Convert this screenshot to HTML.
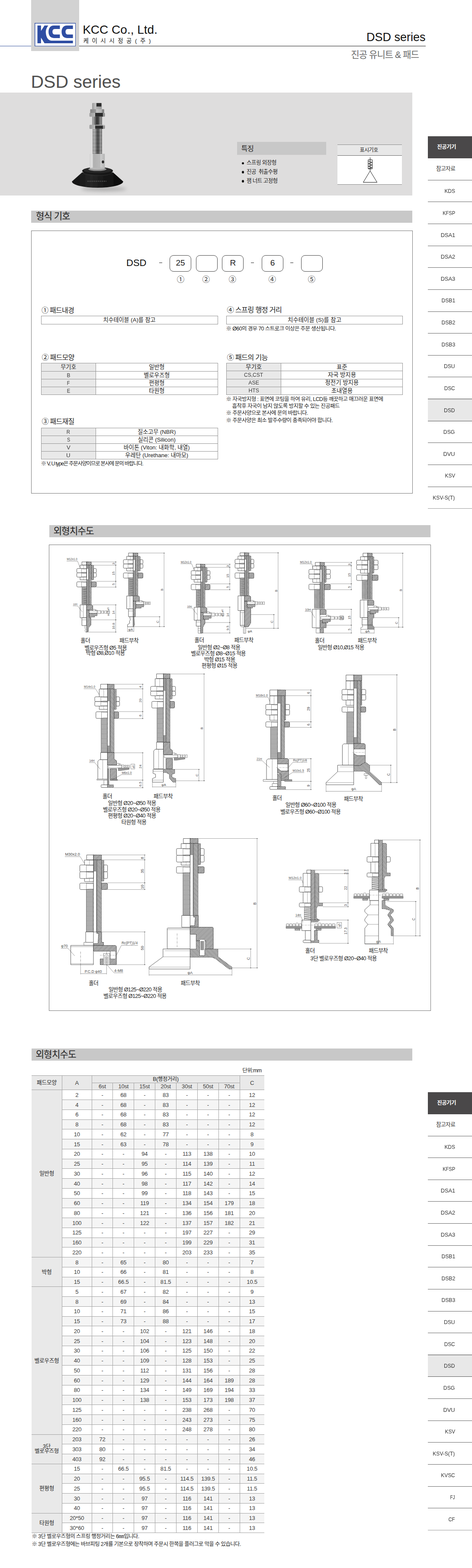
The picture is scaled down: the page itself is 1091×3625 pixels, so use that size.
<!DOCTYPE html>
<html lang="ko"><head><meta charset="utf-8"><title>DSD series</title>
<style>
*{box-sizing:border-box;margin:0;padding:0}
html,body{width:1091px;height:3625px;background:#fff;overflow-x:hidden}
body{position:relative;font-family:"Liberation Sans","Noto Sans CJK KR",sans-serif;color:#222;font-size:13px;line-height:1}
.a{position:absolute}
.t{position:absolute;white-space:nowrap;line-height:1}
.ka{position:absolute;line-height:1;white-space:nowrap;font-weight:normal;letter-spacing:-.05em;font-family:"Liberation Sans","Noto Sans CJK KR",sans-serif}
.bar{position:absolute;background:#c8c8c8}
ul{list-style:none}
table{border-collapse:collapse}
</style></head>
<body>
<header>
<div class="a" style="left:0px;top:105.5px;width:72px;height:1.3px;background:#3a58a0"></div>
<div class="a" style="left:183px;top:105.5px;width:801px;height:1.3px;background:#1a1a1a"></div>
<div class="a" style="left:72px;top:0px;width:111px;height:117.5px;background:#d2d2d2"></div>
<svg class="a" style="left:80px;top:52.7px" width="95.4" height="54.4" viewBox="0 0 95.4 54.4" role="img" aria-label="KCC">
<rect x="0.7" y="0.7" width="94" height="53" fill="#fff" stroke="#2f4ea3" stroke-width="1.4"/>
<g fill="#2f4ea3">
<path d="M6.5 6H14.8V18.5L22.8 6H31.6C27 12 25.5 18 26 23C26.6 32 30.5 40.9 39 40.9H88.6V47H22.8L14.8 34V47H6.5Z"/>
<path id="lgC" d="M58.4 6H44.5C36.5 6 32.2 12 32.2 20.5C32.2 29 36.5 34.9 44.5 34.9H58.4V26.8H46.5C43 26.8 41.3 24 41.3 20.5C41.3 17 43 14.1 46.5 14.1H58.4Z"/>
<use href="#lgC" x="30.2"/>
</g></svg>
<div class="t" style="left:191.2px;top:55.0px;font-size:28px;color:#111;">KCC Co., Ltd.</div>
<div class="ka" style="left:192.5px;top:87.7px;font-size:13.5px;color:#222;letter-spacing:7.5px">케이시시정공(주)</div>
<div class="t" style="right:107.4px;top:73.4px;font-size:27px;color:#111;">DSD series</div>
<div class="ka" style="left:811.3px;top:115.5px;font-size:21.2px;color:#6a6a6a">진공 유니트 &amp; 패드</div>
</header>
<h1 class="t" style="left:71.5px;top:168.6px;font-size:41px;font-weight:normal;color:#505050">DSD series</h1>
<nav class="a" style="left:989px;top:315.6px;width:102px"><ul>
<li style="position:absolute;left:0;top:-.6px;width:102px;height:51.22px;background:#4a4849;"><span style="position:absolute;right:37.2px;top:19.4px;font-size:12.5px;font-weight:bold;color:#fff;white-space:nowrap;letter-spacing:-.05em">진공기기</span></li>
<li style="position:absolute;left:0;top:50.62px;width:102px;height:50.62px;border-bottom:1.3px solid #666;"><span style="position:absolute;right:38.8px;top:17.6px;font-size:12.7px;color:#333;white-space:nowrap;letter-spacing:-.05em">참고자료</span></li>
<li style="position:absolute;left:0;top:101.24px;width:102px;height:50.62px;border-bottom:1.3px solid #666;"><span style="position:absolute;right:39.3px;top:18.5px;font-size:13.08px;color:#333;transform:scaleX(0.910);transform-origin:100% 50%">KDS</span></li>
<li style="position:absolute;left:0;top:151.86px;width:102px;height:50.62px;border-bottom:1.3px solid #666;"><span style="position:absolute;right:39.3px;top:18.5px;font-size:13.08px;color:#333;transform:scaleX(0.849);transform-origin:100% 50%">KFSP</span></li>
<li style="position:absolute;left:0;top:202.48px;width:102px;height:50.62px;border-bottom:1.3px solid #666;"><span style="position:absolute;right:39.3px;top:18.5px;font-size:13.08px;color:#333;transform:scaleX(0.976);transform-origin:100% 50%">DSA1</span></li>
<li style="position:absolute;left:0;top:253.10px;width:102px;height:50.62px;border-bottom:1.3px solid #666;"><span style="position:absolute;right:39.3px;top:18.5px;font-size:13.08px;color:#333;transform:scaleX(0.976);transform-origin:100% 50%">DSA2</span></li>
<li style="position:absolute;left:0;top:303.72px;width:102px;height:50.62px;border-bottom:1.3px solid #666;"><span style="position:absolute;right:39.3px;top:18.5px;font-size:13.08px;color:#333;transform:scaleX(0.976);transform-origin:100% 50%">DSA3</span></li>
<li style="position:absolute;left:0;top:354.34px;width:102px;height:50.62px;border-bottom:1.3px solid #666;"><span style="position:absolute;right:39.3px;top:18.5px;font-size:13.08px;color:#333;transform:scaleX(0.930);transform-origin:100% 50%">DSB1</span></li>
<li style="position:absolute;left:0;top:404.96px;width:102px;height:50.62px;border-bottom:1.3px solid #666;"><span style="position:absolute;right:39.3px;top:18.5px;font-size:13.08px;color:#333;transform:scaleX(0.930);transform-origin:100% 50%">DSB2</span></li>
<li style="position:absolute;left:0;top:455.58px;width:102px;height:50.62px;border-bottom:1.3px solid #666;"><span style="position:absolute;right:39.3px;top:18.5px;font-size:13.08px;color:#333;transform:scaleX(0.930);transform-origin:100% 50%">DSB3</span></li>
<li style="position:absolute;left:0;top:506.20px;width:102px;height:50.62px;border-bottom:1.3px solid #666;"><span style="position:absolute;right:39.3px;top:18.5px;font-size:13.08px;color:#333;transform:scaleX(0.926);transform-origin:100% 50%">DSU</span></li>
<li style="position:absolute;left:0;top:556.82px;width:102px;height:50.62px;border-bottom:1.3px solid #666;"><span style="position:absolute;right:39.3px;top:18.5px;font-size:13.08px;color:#333;transform:scaleX(0.901);transform-origin:100% 50%">DSC</span></li>
<li style="position:absolute;left:0;top:607.44px;width:102px;height:50.62px;background:#e8e8e8;border-bottom:1.3px solid #555;box-shadow:0 -1.3px 0 #666;"><span style="position:absolute;right:39.3px;top:18.5px;font-size:13.08px;color:#333;transform:scaleX(0.926);transform-origin:100% 50%">DSD</span></li>
<li style="position:absolute;left:0;top:658.06px;width:102px;height:50.62px;border-bottom:1.3px solid #666;"><span style="position:absolute;right:39.3px;top:18.5px;font-size:13.08px;color:#333;transform:scaleX(0.934);transform-origin:100% 50%">DSG</span></li>
<li style="position:absolute;left:0;top:708.68px;width:102px;height:50.62px;border-bottom:1.3px solid #666;"><span style="position:absolute;right:39.3px;top:18.5px;font-size:13.08px;color:#333;transform:scaleX(0.982);transform-origin:100% 50%">DVU</span></li>
<li style="position:absolute;left:0;top:759.30px;width:102px;height:50.62px;border-bottom:1.3px solid #666;"><span style="position:absolute;right:39.3px;top:18.5px;font-size:13.08px;color:#333;transform:scaleX(0.905);transform-origin:100% 50%">KSV</span></li>
<li style="position:absolute;left:0;top:809.92px;width:102px;height:50.62px;border-bottom:1.3px solid #999;"><span style="position:absolute;right:39.3px;top:18.5px;font-size:13.08px;color:#333;transform:scaleX(0.922);transform-origin:100% 50%">KSV-S(T)</span></li>
</ul></nav>
<nav class="a" style="left:989px;top:2525.4px;width:102px"><ul>
<li style="position:absolute;left:0;top:-.6px;width:102px;height:51.22px;background:#4a4849;"><span style="position:absolute;right:37.2px;top:19.4px;font-size:12.5px;font-weight:bold;color:#fff;white-space:nowrap;letter-spacing:-.05em">진공기기</span></li>
<li style="position:absolute;left:0;top:50.62px;width:102px;height:50.62px;border-bottom:1.3px solid #666;"><span style="position:absolute;right:38.8px;top:17.6px;font-size:12.7px;color:#333;white-space:nowrap;letter-spacing:-.05em">참고자료</span></li>
<li style="position:absolute;left:0;top:101.24px;width:102px;height:50.62px;border-bottom:1.3px solid #666;"><span style="position:absolute;right:39.3px;top:18.5px;font-size:13.08px;color:#333;transform:scaleX(0.910);transform-origin:100% 50%">KDS</span></li>
<li style="position:absolute;left:0;top:151.86px;width:102px;height:50.62px;border-bottom:1.3px solid #666;"><span style="position:absolute;right:39.3px;top:18.5px;font-size:13.08px;color:#333;transform:scaleX(0.849);transform-origin:100% 50%">KFSP</span></li>
<li style="position:absolute;left:0;top:202.48px;width:102px;height:50.62px;border-bottom:1.3px solid #666;"><span style="position:absolute;right:39.3px;top:18.5px;font-size:13.08px;color:#333;transform:scaleX(0.976);transform-origin:100% 50%">DSA1</span></li>
<li style="position:absolute;left:0;top:253.10px;width:102px;height:50.62px;border-bottom:1.3px solid #666;"><span style="position:absolute;right:39.3px;top:18.5px;font-size:13.08px;color:#333;transform:scaleX(0.976);transform-origin:100% 50%">DSA2</span></li>
<li style="position:absolute;left:0;top:303.72px;width:102px;height:50.62px;border-bottom:1.3px solid #666;"><span style="position:absolute;right:39.3px;top:18.5px;font-size:13.08px;color:#333;transform:scaleX(0.976);transform-origin:100% 50%">DSA3</span></li>
<li style="position:absolute;left:0;top:354.34px;width:102px;height:50.62px;border-bottom:1.3px solid #666;"><span style="position:absolute;right:39.3px;top:18.5px;font-size:13.08px;color:#333;transform:scaleX(0.930);transform-origin:100% 50%">DSB1</span></li>
<li style="position:absolute;left:0;top:404.96px;width:102px;height:50.62px;border-bottom:1.3px solid #666;"><span style="position:absolute;right:39.3px;top:18.5px;font-size:13.08px;color:#333;transform:scaleX(0.930);transform-origin:100% 50%">DSB2</span></li>
<li style="position:absolute;left:0;top:455.58px;width:102px;height:50.62px;border-bottom:1.3px solid #666;"><span style="position:absolute;right:39.3px;top:18.5px;font-size:13.08px;color:#333;transform:scaleX(0.930);transform-origin:100% 50%">DSB3</span></li>
<li style="position:absolute;left:0;top:506.20px;width:102px;height:50.62px;border-bottom:1.3px solid #666;"><span style="position:absolute;right:39.3px;top:18.5px;font-size:13.08px;color:#333;transform:scaleX(0.926);transform-origin:100% 50%">DSU</span></li>
<li style="position:absolute;left:0;top:556.82px;width:102px;height:50.62px;border-bottom:1.3px solid #666;"><span style="position:absolute;right:39.3px;top:18.5px;font-size:13.08px;color:#333;transform:scaleX(0.901);transform-origin:100% 50%">DSC</span></li>
<li style="position:absolute;left:0;top:607.44px;width:102px;height:50.62px;background:#e8e8e8;border-bottom:1.3px solid #555;box-shadow:0 -1.3px 0 #666;"><span style="position:absolute;right:39.3px;top:18.5px;font-size:13.08px;color:#333;transform:scaleX(0.926);transform-origin:100% 50%">DSD</span></li>
<li style="position:absolute;left:0;top:658.06px;width:102px;height:50.62px;border-bottom:1.3px solid #666;"><span style="position:absolute;right:39.3px;top:18.5px;font-size:13.08px;color:#333;transform:scaleX(0.934);transform-origin:100% 50%">DSG</span></li>
<li style="position:absolute;left:0;top:708.68px;width:102px;height:50.62px;border-bottom:1.3px solid #666;"><span style="position:absolute;right:39.3px;top:18.5px;font-size:13.08px;color:#333;transform:scaleX(0.982);transform-origin:100% 50%">DVU</span></li>
<li style="position:absolute;left:0;top:759.30px;width:102px;height:50.62px;border-bottom:1.3px solid #666;"><span style="position:absolute;right:39.3px;top:18.5px;font-size:13.08px;color:#333;transform:scaleX(0.905);transform-origin:100% 50%">KSV</span></li>
<li style="position:absolute;left:0;top:809.92px;width:102px;height:50.62px;border-bottom:1.3px solid #666;"><span style="position:absolute;right:39.3px;top:18.5px;font-size:13.08px;color:#333;transform:scaleX(0.922);transform-origin:100% 50%">KSV-S(T)</span></li>
<li style="position:absolute;left:0;top:860.54px;width:102px;height:50.62px;border-bottom:1.3px solid #666;"><span style="position:absolute;right:39.3px;top:18.5px;font-size:13.08px;color:#333;transform:scaleX(0.907);transform-origin:100% 50%">KVSC</span></li>
<li style="position:absolute;left:0;top:911.16px;width:102px;height:50.62px;border-bottom:1.3px solid #666;"><span style="position:absolute;right:39.3px;top:18.5px;font-size:13.08px;color:#333;transform:scaleX(0.763);transform-origin:100% 50%">FJ</span></li>
<li style="position:absolute;left:0;top:961.78px;width:102px;height:50.62px;border-bottom:1.3px solid #999;"><span style="position:absolute;right:39.3px;top:18.5px;font-size:13.08px;color:#333;transform:scaleX(0.862);transform-origin:100% 50%">CF</span></li>
</ul></nav>
<section>
<div class="a" style="left:0px;top:214px;width:953px;height:237.6px;background:#dedddd"></div>
<svg class="a" style="left:150px;top:225px" width="170" height="235" viewBox="150 225 170 235" role="img" aria-label="DSD vacuum pad">
<defs>
<linearGradient id="mS" x1="0" x2="1" y1="0" y2="0"><stop offset="0" stop-color="#8a8a8a"/><stop offset=".1" stop-color="#a8a8a8"/><stop offset=".3" stop-color="#6c6c6c"/><stop offset=".42" stop-color="#383838"/><stop offset=".62" stop-color="#3c3c3c"/><stop offset=".76" stop-color="#7a7a7a"/><stop offset=".9" stop-color="#8c8c8c"/><stop offset="1" stop-color="#666"/></linearGradient>
<linearGradient id="mT" x1="0" x2="1" y1="0" y2="0"><stop offset="0" stop-color="#9a9a9a"/><stop offset=".15" stop-color="#d9d9d9"/><stop offset=".36" stop-color="#8f8f8f"/><stop offset=".45" stop-color="#404040"/><stop offset=".68" stop-color="#4a4a4a"/><stop offset=".8" stop-color="#b5b5b5"/><stop offset="1" stop-color="#7a7a7a"/></linearGradient>
<linearGradient id="mN" x1="0" x2="1" y1="0" y2="0"><stop offset="0" stop-color="#9c9c9c"/><stop offset=".36" stop-color="#b8b8b8"/><stop offset=".38" stop-color="#2d2d2d"/><stop offset=".86" stop-color="#2a2a2a"/><stop offset=".88" stop-color="#a0a0a0"/><stop offset="1" stop-color="#828282"/></linearGradient>
<linearGradient id="mN1" x1="0" x2="1" y1="0" y2="0"><stop offset="0" stop-color="#858585"/><stop offset=".4" stop-color="#9a9a9a"/><stop offset=".44" stop-color="#c4c4c4"/><stop offset=".82" stop-color="#b2b2b2"/><stop offset=".86" stop-color="#8c8c8c"/><stop offset="1" stop-color="#7c7c7c"/></linearGradient>
<linearGradient id="mU" x1="0" x2="1" y1="0" y2="0"><stop offset="0" stop-color="#9a9a9a"/><stop offset=".35" stop-color="#c2c2c2"/><stop offset=".45" stop-color="#b0b0b0"/><stop offset="1" stop-color="#9b9b9b"/></linearGradient>
<linearGradient id="mD" x1="0" x2="1" y1="0" y2="0"><stop offset="0" stop-color="#c4c4c4"/><stop offset=".06" stop-color="#e2e2e2"/><stop offset=".19" stop-color="#d6d6d6"/><stop offset=".21" stop-color="#b0b0b0"/><stop offset=".7" stop-color="#bababa"/><stop offset=".72" stop-color="#cdcdcd"/><stop offset="1" stop-color="#b5b5b5"/></linearGradient>
<linearGradient id="pC" x1="0" x2="1" y1="0" y2="0"><stop offset="0" stop-color="#111"/><stop offset=".38" stop-color="#262626"/><stop offset=".6" stop-color="#1a1a1a"/><stop offset="1" stop-color="#0a0a0a"/></linearGradient>
<pattern id="thr" x="0" y="297.800" width="30" height="3.4" patternUnits="userSpaceOnUse"><rect width="30" height="1.5" fill="#fff" fill-opacity=".35"/><rect y="1.5" width="30" height="1.9" fill="#000" fill-opacity=".4"/></pattern>
<filter id="bl" x="-20%" y="-80%" width="140%" height="260%"><feGaussianBlur stdDeviation="4"/></filter>
<filter id="b1"><feGaussianBlur stdDeviation=".55"/></filter>
</defs>
<ellipse cx="240" cy="437" rx="52" ry="5" fill="#999" filter="url(#bl)" opacity=".7"/>
<g filter="url(#b1)">
<rect x="213" y="238" width="22.3" height="15" rx="1.5" fill="url(#mU)"/>
<rect x="223" y="238.300" width="11.3" height="8" fill="#2b2b2b"/>
<rect x="208.500" y="252.600" width="32.200" height="9" rx="1.2" fill="url(#mN1)"/>
<rect x="206.700" y="261" width="35.700" height="8.800" rx="1.6" fill="url(#mN)"/>
<rect x="213" y="269.600" width="23" height="19.500" fill="url(#mS)"/>
<rect x="206.700" y="288.600" width="35.700" height="9.400" rx="1.8" fill="url(#mN)"/>
<path d="M219.500 289.300l3-1h18l2 1v1.200h-23z" fill="#d8d8d8" opacity=".7"/>
<rect x="214" y="297.800" width="22" height="58.500" fill="url(#mT)"/>
<rect x="214" y="297.800" width="22" height="58.500" fill="url(#thr)"/>
<path d="M189.800 398.500L166.300 419.500A59.200 14.500 0 0 0 284.700 419.500L261.200 398.500Z" fill="url(#pC)"/>
<ellipse cx="225.500" cy="395" rx="35.600" ry="8.600" fill="#161616"/>
<ellipse cx="225.500" cy="393.600" rx="33" ry="6.800" fill="#262626"/>
<path d="M192 400.500C204 408 247 408 259 400.500" fill="none" stroke="#333" stroke-width=".9"/>
<ellipse cx="225.200" cy="391.300" rx="21" ry="4" fill="#8e8e8e"/>
<rect x="207.900" y="355.600" width="34.300" height="34" rx="1" fill="url(#mD)"/>
<ellipse cx="225" cy="389.600" rx="17.200" ry="2.600" fill="#b8b8b8"/>
<ellipse cx="238" cy="374.300" rx="2.700" ry="3.400" fill="#262626"/>
<path d="M202 419h44" stroke="#555" stroke-width="2.400" stroke-dasharray="3.200 1.500" opacity=".75"/>
</g>
</svg>
<div class="a" style="left:548.4px;top:328.4px;width:205.8px;height:29.3px;background:#c8c8c8"></div>
<h3 class="ka" style="left:557.5px;top:334.9px;font-size:16.4px;color:#222">특징</h3>
<ul>
<li><div class="a" style="left:558.8px;top:374.5px;width:5.6px;height:5.6px;background:#111;border-radius:50%"></div><div class="ka" style="left:570.0px;top:370.4px;font-size:12.6px;color:#222">스프링 외장형</div></li>
<li><div class="a" style="left:558.8px;top:395.3px;width:5.6px;height:5.6px;background:#111;border-radius:50%"></div><div class="ka" style="left:570.0px;top:391.2px;font-size:12.6px;color:#222">진공&nbsp; 취출수평</div></li>
<li><div class="a" style="left:558.8px;top:416.1px;width:5.6px;height:5.6px;background:#111;border-radius:50%"></div><div class="ka" style="left:570.0px;top:412.0px;font-size:12.6px;color:#222">잼 너트 고정형</div></li>
</ul>
<div class="a" style="left:780px;top:334px;width:148.5px;height:92.5px;background:#fff;border-top:1.3px solid #8a8a8a;border-bottom:1.3px solid #8a8a8a"></div>
<div class="a" style="left:780px;top:335.3px;width:148.5px;height:24.7px;background:#e8e8e8;border-bottom:1.3px solid #666"></div>
<div class="ka" style="left:831.4px;top:341.1px;font-size:12.2px;color:#222">표시기호</div>
<svg class="a" style="left:830px;top:360px" width="50" height="66" viewBox="830 360 50 66" fill="none" stroke="#111" stroke-width="1">
<path d="M855.500 364V395.200M851 369.300h9.400v21h-9.400zM851 372.500l9.400 3l-9.400 3l9.400 3l-9.400 3l9.400 3l-9.400 2.500M855.500 395.200L839.600 421.500H871.600Z"/></svg>
</section>
<section>
<div class="a" style="left:72.4px;top:487.3px;width:880.6px;height:27.3px;background:#c8c8c8"></div>
<h2 class="ka" style="left:83px;top:489.1px;font-size:21.2px;color:#222">형식 기호</h2>
<div class="a" style="left:72px;top:533px;width:881.5px;height:607.5px;border:1.3px solid #777"></div>
<div class="t" style="left:292.0px;top:597.4px;font-size:22px;color:#111;">DSD</div>
<div class="a" style="left:392px;top:589.7px;width:50px;height:38px;border:1.5px solid #444;border-radius:9px"></div>
<div class="a" style="left:452.6px;top:589.7px;width:50px;height:38px;border:1.5px solid #444;border-radius:9px"></div>
<div class="a" style="left:513.3px;top:589.7px;width:50px;height:38px;border:1.5px solid #444;border-radius:9px"></div>
<div class="a" style="left:605px;top:589.7px;width:50px;height:38px;border:1.5px solid #444;border-radius:9px"></div>
<div class="a" style="left:696px;top:589.7px;width:50px;height:38px;border:1.5px solid #444;border-radius:9px"></div>
<div class="a" style="left:367.7px;top:606.6px;width:7px;height:1.6px;background:#222"></div>
<div class="a" style="left:579.8px;top:606.6px;width:7px;height:1.6px;background:#222"></div>
<div class="a" style="left:671px;top:606.6px;width:7px;height:1.6px;background:#222"></div>
<div class="t" style="left:417.0px;transform:translateX(-50%);top:598.1px;font-size:19px;color:#222;">25</div>
<div class="t" style="left:538.3px;transform:translateX(-50%);top:598.1px;font-size:19px;color:#222;">R</div>
<div class="t" style="left:630.0px;transform:translateX(-50%);top:598.1px;font-size:19px;color:#222;">6</div>
<div class="ka" style="left:408.8px;top:638.2px;font-size:17.5px;color:#333">①</div>
<div class="ka" style="left:467.6px;top:638.2px;font-size:17.5px;color:#333">②</div>
<div class="ka" style="left:528.4px;top:638.2px;font-size:17.5px;color:#333">③</div>
<div class="ka" style="left:620.6px;top:638.2px;font-size:17.5px;color:#333">④</div>
<div class="ka" style="left:711.6px;top:638.2px;font-size:17.5px;color:#333">⑤</div>
<h3 class="ka" style="left:96px;top:708.5px;font-size:16.1px;color:#222">① 패드내경</h3>
<table class="a" style="left:94.5px;top:730px;width:409px;border:1px solid #939393;font-size:13.1px;text-align:center"><tr style="height:19px"><td style="border:1px solid #939393">치수테이블 (A)를 참고</td></tr></table>
<h3 class="ka" style="left:96.5px;top:818.2px;font-size:16.1px;color:#222">② 패드모양</h3>
<table class="a" style="left:94.5px;top:839.3px;width:409px;border:1px solid #939393;font-size:13.1px;text-align:center"><tr style="height:18.3px"><td style="width:126.5px;background:#e9e9e9;border:1px solid #939393">무기호</td><td style="border:1px solid #939393">일반형</td></tr><tr style="height:18.3px"><td style="width:126.5px;background:#e9e9e9;border:1px solid #939393"><span style="display:inline-block;font-size:13.39px;transform:scaleX(0.889);color:#3a3a3a">B</span></td><td style="border:1px solid #939393">벨로우즈형</td></tr><tr style="height:18.3px"><td style="width:126.5px;background:#e9e9e9;border:1px solid #939393"><span style="display:inline-block;font-size:13.39px;transform:scaleX(0.806);color:#3a3a3a">F</span></td><td style="border:1px solid #939393">편평형</td></tr><tr style="height:18.3px"><td style="width:126.5px;background:#e9e9e9;border:1px solid #939393"><span style="display:inline-block;font-size:13.39px;transform:scaleX(0.845);color:#3a3a3a">E</span></td><td style="border:1px solid #939393">타원형</td></tr></table>
<h3 class="ka" style="left:96.5px;top:966.3px;font-size:16.1px;color:#222">③ 패드재질</h3>
<table class="a" style="left:94.5px;top:989px;width:409px;border:1px solid #939393;font-size:13.1px;text-align:center"><tr style="height:17.95px"><td style="width:126.5px;background:#e9e9e9;border:1px solid #939393"><span style="display:inline-block;font-size:13.39px;transform:scaleX(0.843);color:#3a3a3a">R</span></td><td style="border:1px solid #939393">질소고무 (NBR)</td></tr><tr style="height:17.95px"><td style="width:126.5px;background:#e9e9e9;border:1px solid #939393"><span style="display:inline-block;font-size:13.39px;transform:scaleX(0.799);color:#3a3a3a">S</span></td><td style="border:1px solid #939393">실리콘 (Silicon)</td></tr><tr style="height:17.95px"><td style="width:126.5px;background:#e9e9e9;border:1px solid #939393"><span style="display:inline-block;font-size:13.39px;transform:scaleX(0.977);color:#3a3a3a">V</span></td><td style="border:1px solid #939393">바이톤 (Viton: 내화학, 내열)</td></tr><tr style="height:17.95px"><td style="width:126.5px;background:#e9e9e9;border:1px solid #939393"><span style="display:inline-block;font-size:13.39px;transform:scaleX(0.985);color:#3a3a3a">U</span></td><td style="border:1px solid #939393">우레탄 (Urethane: 내마모)</td></tr></table>
<div class="ka" style="left:94.8px;top:1066.4px;font-size:12.4px;color:#222;letter-spacing:-.1em">※ V, U type은 주문사양이므로 본사에 문의 바랍니다.</div>
<h3 class="ka" style="left:524.5px;top:708.4px;font-size:16.4px;color:#222">④ 스프링 행정 거리</h3>
<table class="a" style="left:522.8px;top:730px;width:408.5px;border:1px solid #939393;font-size:13.4px;text-align:center"><tr style="height:19px"><td style="border:1px solid #939393">치수테이블 (S)를 참고</td></tr></table>
<div class="ka" style="left:522.5px;top:753.6px;font-size:12.5px;color:#222">※ Ø60의 경우 70 스트로크 이상은 주문 생산됩니다.</div>
<h3 class="ka" style="left:524.5px;top:818.1px;font-size:16.4px;color:#222">⑤ 패드의 기능</h3>
<table class="a" style="left:522.8px;top:839.3px;width:408.5px;border:1px solid #939393;font-size:13.4px;text-align:center"><tr style="height:18.15px"><td style="width:126.6px;background:#e9e9e9;border:1px solid #939393">무기호</td><td style="border:1px solid #939393">표준</td></tr><tr style="height:18.15px"><td style="width:126.6px;background:#e9e9e9;border:1px solid #939393"><span style="display:inline-block;font-size:13.70px;transform:scaleX(0.876);color:#3a3a3a">CS,CST</span></td><td style="border:1px solid #939393">자국 방지용</td></tr><tr style="height:18.15px"><td style="width:126.6px;background:#e9e9e9;border:1px solid #939393"><span style="display:inline-block;font-size:13.70px;transform:scaleX(0.904);color:#3a3a3a">ASE</span></td><td style="border:1px solid #939393">정전기 방지용</td></tr><tr style="height:18.15px"><td style="width:126.6px;background:#e9e9e9;border:1px solid #939393"><span style="display:inline-block;font-size:13.70px;transform:scaleX(0.889);color:#3a3a3a">HTS</span></td><td style="border:1px solid #939393">초내열용</td></tr></table>
<div class="ka" style="left:522.5px;top:917.0px;font-size:12.5px;color:#222">※ 자국방지형 : 표면에 코팅을 하여 유리, LCD등 깨끗하고 매끄러운 표면에</div>
<div class="ka" style="left:536.5px;top:932.8px;font-size:12.5px;color:#222">흡착후 자국이 남지 않도록 방지할 수 있는 진공패드</div>
<div class="ka" style="left:522.5px;top:949.0px;font-size:12.5px;color:#222">※ 주문사양으로 본사에 문의 바랍니다.</div>
<div class="ka" style="left:522.5px;top:966.2px;font-size:12.5px;color:#222">※ 주문사양은 최소 발주수량이 충족되어야 합니다.</div>
</section>
<section>
<div class="a" style="left:113.5px;top:1214.4px;width:881px;height:27.4px;background:#c8c8c8"></div>
<h2 class="ka" style="left:123.5px;top:1217.5px;font-size:21.4px;color:#222">외형치수도</h2>
<div class="a" style="left:112.5px;top:1259px;width:883.3px;height:1077.5px;border:1.2px solid #777"></div>
<svg class="a" style="left:113px;top:1260px" width="882" height="1076" viewBox="113 1260 882 1076" fill="none" stroke="#333" stroke-linejoin="round" font-family="Liberation Sans, sans-serif"><defs>
<pattern id="h1" width="2.6" height="2.6" patternUnits="userSpaceOnUse" patternTransform="rotate(-45)"><rect width="2.6" height="2.6" fill="#fff" stroke="none"/><path d="M-1 1.300H4" stroke="#3a3a3a" stroke-width="1.2"/></pattern>
<pattern id="h2" width="2.6" height="2.6" patternUnits="userSpaceOnUse" patternTransform="rotate(45)"><rect width="2.6" height="2.6" fill="#fff" stroke="none"/><path d="M-1 1.300H4" stroke="#3a3a3a" stroke-width="1.2"/></pattern>
<pattern id="h3" width="1.9" height="1.9" patternUnits="userSpaceOnUse" patternTransform="rotate(-45)"><rect width="1.9" height="1.9" fill="#fff" stroke="none"/><path d="M-1 .950H3" stroke="#333" stroke-width="1.02"/></pattern>
</defs><rect x="189.3" y="1357.7" width="10.8" height="39.7" fill="#fff" stroke-width="0"/>
<path d="M189.3 1358.1L200.1 1359.1L200.1 1359.8L189.3 1360.2L189.3 1360.6L200.1 1361.5L200.1 1362.3L189.3 1362.7L189.3 1363.0L200.1 1364.0L200.1 1364.8L189.3 1365.1L189.3 1365.5L200.1 1366.5L200.1 1367.3L189.3 1367.6L189.3 1368.0L200.1 1369.0L200.1 1369.7L189.3 1370.1L189.3 1370.5L200.1 1371.5L200.1 1372.2L189.3 1372.6L189.3 1373.0L200.1 1374.0L200.1 1374.7L189.3 1375.1L189.3 1375.4L200.1 1376.4L200.1 1377.2L189.3 1377.6L189.3 1377.9L200.1 1378.9L200.1 1379.7L189.3 1380.0L189.3 1380.4L200.1 1381.4L200.1 1382.1L189.3 1382.5L189.3 1382.9L200.1 1383.9L200.1 1384.6L189.3 1385.0L189.3 1385.4L200.1 1386.4L200.1 1387.1L189.3 1387.5L189.3 1387.8L200.1 1388.8L200.1 1389.6L189.3 1390.0L189.3 1390.3L200.1 1391.3L200.1 1392.1L189.3 1392.4L189.3 1392.8L200.1 1393.8L200.1 1394.5L189.3 1394.9L189.3 1395.3L200.1 1396.3L200.1 1397.0L189.3 1397.4" fill="none" stroke-width="0.7"/>
<path d="M189.3 1357.7L189.3 1397.4" fill="none" stroke-width="0.5"/>
<rect x="200.1" y="1299.0" width="5.4" height="98.4" fill="url(#h3)" stroke-width="0.5"/>
<rect x="200.1" y="1314.3" width="4.4" height="25.7" fill="#fff" stroke-width="0.5"/>
<rect x="206.0" y="1306.2" width="5.0" height="91.2" fill="url(#h2)" stroke-width="0.5"/>
<rect x="211.0" y="1306.6" width="5.4" height="33.9" rx="1" fill="url(#h1)" stroke-width="0.6"/>
<rect x="185.1" y="1306.7" width="15.0" height="33.8" fill="#fff" stroke-width="0.8"/>
<path d="M193.3 1306.7L193.3 1340.5" fill="none" stroke-width="0.4"/>
<rect x="189.3" y="1299.0" width="10.8" height="7.2" fill="#fff" stroke-width="0.8"/>
<rect x="200.1" y="1299.0" width="10.9" height="7.2" fill="url(#h1)" stroke-width="0.8"/>
<path d="M200.1 1314.3H179.7Q177.5 1314.3 177.5 1316.5V1322.1Q177.5 1324.3 179.7 1324.3H200.1Z" fill="#fff" stroke-width="0.8"/>
<path d="M188.3 1314.3L188.3 1324.3" fill="none" stroke-width="0.5"/>
<path d="M188.3 1314.7Q194.2 1316.5 200.1 1315.5M188.3 1323.9Q194.2 1322.1 200.1 1323.1" fill="none" stroke-width="0.45"/>
<path d="M216.4 1314.3H220.5Q222.7 1314.3 222.7 1316.5V1322.1Q222.7 1324.3 220.5 1324.3H216.4Z" fill="#fff" stroke-width="0.8"/>
<path d="M200.1 1324.3H179.7Q177.5 1324.3 177.5 1326.5V1332.0Q177.5 1334.2 179.7 1334.2H200.1Z" fill="#fff" stroke-width="0.8"/>
<path d="M188.3 1324.3L188.3 1334.2" fill="none" stroke-width="0.5"/>
<path d="M188.3 1324.7Q194.2 1326.5 200.1 1325.5M188.3 1333.8Q194.2 1332.0 200.1 1333.0" fill="none" stroke-width="0.45"/>
<path d="M216.4 1324.3H220.5Q222.7 1324.3 222.7 1326.5V1332.0Q222.7 1334.2 220.5 1334.2H216.4Z" fill="#fff" stroke-width="0.8"/>
<path d="M200.1 1345.0H179.7Q177.5 1345.0 177.5 1347.2V1354.8Q177.5 1357.0 179.7 1357.0H200.1Z" fill="#fff" stroke-width="0.8"/>
<path d="M188.3 1345.0L188.3 1357.0" fill="none" stroke-width="0.5"/>
<path d="M188.3 1345.4Q194.2 1347.2 200.1 1346.2M188.3 1356.6Q194.2 1354.8 200.1 1355.8" fill="none" stroke-width="0.45"/>
<path d="M211.0 1345.0H220.7Q222.7 1345.0 222.7 1347.0V1355.0Q222.7 1357.0 220.7 1357.0H211.0Z" fill="url(#h1)" stroke-width="0.8"/>
<path d="M200.1 1297.0L200.1 1399.4" fill="none" stroke-width="0.35" stroke-dasharray="6 1.5 1 1.5"/>
<rect x="185.1" y="1398.3" width="15.0" height="29.8" fill="#fff" stroke-width="0.8"/>
<path d="M192.6 1398.3L192.6 1428.1" fill="none" stroke-width="0.45"/>
<path d="M200.1 1398.3L212.5 1398.3L214.5 1400.3L214.5 1410.3L200.1 1410.3Z" fill="url(#h1)" stroke-width="0.8"/>
<rect x="214.5" y="1408.9" width="6.0" height="5.6" fill="#fff" stroke-width="0.6"/>
<rect x="220.5" y="1410.5" width="4.0" height="4.0" fill="#fff" stroke-width="0.6"/>
<rect x="202.1" y="1412.3" width="22.4" height="5.4" fill="#fff" stroke-width="0.55"/>
<path d="M206.1 1417.7L224.5 1417.7L224.5 1423.5L218.5 1423.5L218.5 1426.5L206.1 1426.5Z" fill="url(#h2)" stroke-width="0.6"/>
<rect x="224.5" y="1411.7" width="8.7" height="6.8" fill="#fff" stroke-width="0.6"/>
<path d="M233.2 1413.2L238.2 1411.9L239.9 1411.9L239.9 1418.3L238.2 1418.3L233.2 1417.0Z" fill="#fff" stroke-width="0.55"/>
<path d="M239.9 1413.2L245.0 1411.9L246.7 1411.9L246.7 1418.3L245.0 1418.3L239.9 1417.0Z" fill="#fff" stroke-width="0.55"/>
<path d="M246.7 1413.2L251.7 1411.9L253.4 1411.9L253.4 1418.3L251.7 1418.3L246.7 1417.0Z" fill="#fff" stroke-width="0.55"/>
<path d="M224.5 1415.1L253.4 1415.1" fill="none" stroke-width="0.35" stroke-dasharray="4 1.2 1 1.2"/>
<rect x="189.3" y="1428.1" width="10.8" height="18.1" fill="#fff" stroke-width="0.8"/>
<path d="M189.3 1433.0L200.1 1433.0" fill="none" stroke-width="0.45"/>
<path d="M200.1 1410.3L206.1 1410.3L206.1 1428.0L210.1 1428.0L210.1 1445.0L204.1 1452.0L204.1 1460.0L200.1 1461.5Z" fill="url(#h1)" stroke-width="0.8"/>
<path d="M196.5 1446.2L200.1 1446.2L200.1 1461.5L198.1 1461.5L196.5 1458.0L197.7 1455.0L196.5 1452.0Z" fill="#fff" stroke-width="0.6"/>
<path d="M211.0 1299.0L269.0 1299.0" fill="none" stroke-width="0.45"/>
<path d="M216.4 1306.7L269.0 1306.7" fill="none" stroke-width="0.45"/>
<path d="M222.7 1344.0L269.0 1344.0" fill="none" stroke-width="0.45"/>
<path d="M222.7 1357.3L269.0 1357.3" fill="none" stroke-width="0.45"/>
<path d="M214.5 1398.3L269.0 1398.3" fill="none" stroke-width="0.45"/>
<path d="M210.0 1433.0L269.0 1433.0" fill="none" stroke-width="0.45"/>
<path d="M202.0 1461.3L269.0 1461.3" fill="none" stroke-width="0.45"/>
<path d="M266.3 1299.0L268.7 1299.0" fill="none" stroke-width="0.9"/>
<path d="M266.3 1306.7L268.7 1306.7" fill="none" stroke-width="0.9"/>
<path d="M266.3 1344.0L268.7 1344.0" fill="none" stroke-width="0.9"/>
<path d="M266.3 1357.3L268.7 1357.3" fill="none" stroke-width="0.9"/>
<path d="M266.3 1398.3L268.7 1398.3" fill="none" stroke-width="0.9"/>
<path d="M266.3 1433.0L268.7 1433.0" fill="none" stroke-width="0.9"/>
<path d="M266.3 1461.3L268.7 1461.3" fill="none" stroke-width="0.9"/>
<text x="265.1" y="1303.1" font-size="7.8" text-anchor="middle" fill="#484848" stroke="none" transform="rotate(-90 265.1 1303.1)">3</text>
<text x="265.1" y="1325.6" font-size="7.8" text-anchor="middle" fill="#484848" stroke="none" transform="rotate(-90 265.1 1325.6)">15</text>
<text x="265.1" y="1350.9" font-size="7.8" text-anchor="middle" fill="#484848" stroke="none" transform="rotate(-90 265.1 1350.9)">5</text>
<text x="265.1" y="1415.9" font-size="7.8" text-anchor="middle" fill="#484848" stroke="none" transform="rotate(-90 265.1 1415.9)">14</text>
<text x="265.1" y="1447.4" font-size="7.8" text-anchor="middle" fill="#484848" stroke="none" transform="rotate(-90 265.1 1447.4)">10.8</text>
<path d="M267.5 1299.0L267.5 1357.3" fill="none" stroke-width="0.45"/>
<path d="M267.5 1398.3L267.5 1461.3" fill="none" stroke-width="0.45"/>
<text x="251.5" y="1414.0" font-size="5.6" text-anchor="middle" fill="#484848" stroke="none" transform="rotate(-90 251.5 1414.0)">φ2.5 φ5</text>
<text x="154.5" y="1295.4" font-size="6.33563" text-anchor="start" fill="#484848" stroke="none">M12x1.0</text>
<path d="M154.0 1297.2L179.3 1297.2" fill="none" stroke-width="0.5"/>
<path d="M179.3 1297.2L184.6 1311.6" fill="none" stroke-width="0.5"/>
<text x="169.0" y="1399.2" font-size="5.34213" text-anchor="start" fill="#484848" stroke="none">10H</text>
<path d="M168.5 1400.7L179.3 1400.7" fill="none" stroke-width="0.5"/>
<path d="M179.3 1400.7L190.2 1414.6" fill="none" stroke-width="0.5"/>
<rect x="297.0" y="1337.2" width="10.8" height="39.7" fill="#fff" stroke-width="0"/>
<path d="M297.0 1337.6L307.8 1338.6L307.8 1339.3L297.0 1339.7L297.0 1340.1L307.8 1341.0L307.8 1341.8L297.0 1342.2L297.0 1342.5L307.8 1343.5L307.8 1344.3L297.0 1344.6L297.0 1345.0L307.8 1346.0L307.8 1346.8L297.0 1347.1L297.0 1347.5L307.8 1348.5L307.8 1349.2L297.0 1349.6L297.0 1350.0L307.8 1351.0L307.8 1351.7L297.0 1352.1L297.0 1352.5L307.8 1353.5L307.8 1354.2L297.0 1354.6L297.0 1354.9L307.8 1355.9L307.8 1356.7L297.0 1357.1L297.0 1357.4L307.8 1358.4L307.8 1359.2L297.0 1359.5L297.0 1359.9L307.8 1360.9L307.8 1361.6L297.0 1362.0L297.0 1362.4L307.8 1363.4L307.8 1364.1L297.0 1364.5L297.0 1364.9L307.8 1365.9L307.8 1366.6L297.0 1367.0L297.0 1367.3L307.8 1368.3L307.8 1369.1L297.0 1369.5L297.0 1369.8L307.8 1370.8L307.8 1371.6L297.0 1371.9L297.0 1372.3L307.8 1373.3L307.8 1374.0L297.0 1374.4L297.0 1374.8L307.8 1375.8L307.8 1376.5L297.0 1376.9" fill="none" stroke-width="0.7"/>
<path d="M297.0 1337.2L297.0 1376.9" fill="none" stroke-width="0.5"/>
<rect x="307.8" y="1278.5" width="5.4" height="98.4" fill="url(#h3)" stroke-width="0.5"/>
<rect x="307.8" y="1293.8" width="4.4" height="25.7" fill="#fff" stroke-width="0.5"/>
<rect x="313.7" y="1285.7" width="5.0" height="91.2" fill="url(#h2)" stroke-width="0.5"/>
<rect x="318.7" y="1286.1" width="5.4" height="33.9" rx="1" fill="url(#h1)" stroke-width="0.6"/>
<rect x="292.8" y="1286.2" width="15.0" height="33.8" fill="#fff" stroke-width="0.8"/>
<path d="M301.1 1286.2L301.1 1320.0" fill="none" stroke-width="0.4"/>
<rect x="297.0" y="1278.5" width="10.8" height="7.2" fill="#fff" stroke-width="0.8"/>
<rect x="307.8" y="1278.5" width="10.9" height="7.2" fill="url(#h1)" stroke-width="0.8"/>
<path d="M307.8 1293.8H287.4Q285.2 1293.8 285.2 1296.0V1301.6Q285.2 1303.8 287.4 1303.8H307.8Z" fill="#fff" stroke-width="0.8"/>
<path d="M296.0 1293.8L296.0 1303.8" fill="none" stroke-width="0.5"/>
<path d="M296.0 1294.2Q301.9 1296.0 307.8 1295.0M296.0 1303.4Q301.9 1301.6 307.8 1302.6" fill="none" stroke-width="0.45"/>
<path d="M324.1 1293.8H328.2Q330.4 1293.8 330.4 1296.0V1301.6Q330.4 1303.8 328.2 1303.8H324.1Z" fill="#fff" stroke-width="0.8"/>
<path d="M307.8 1303.8H287.4Q285.2 1303.8 285.2 1306.0V1311.5Q285.2 1313.7 287.4 1313.7H307.8Z" fill="#fff" stroke-width="0.8"/>
<path d="M296.0 1303.8L296.0 1313.7" fill="none" stroke-width="0.5"/>
<path d="M296.0 1304.2Q301.9 1306.0 307.8 1305.0M296.0 1313.3Q301.9 1311.5 307.8 1312.5" fill="none" stroke-width="0.45"/>
<path d="M324.1 1303.8H328.2Q330.4 1303.8 330.4 1306.0V1311.5Q330.4 1313.7 328.2 1313.7H324.1Z" fill="#fff" stroke-width="0.8"/>
<path d="M307.8 1324.5H287.4Q285.2 1324.5 285.2 1326.7V1334.3Q285.2 1336.5 287.4 1336.5H307.8Z" fill="#fff" stroke-width="0.8"/>
<path d="M296.0 1324.5L296.0 1336.5" fill="none" stroke-width="0.5"/>
<path d="M296.0 1324.9Q301.9 1326.7 307.8 1325.7M296.0 1336.1Q301.9 1334.3 307.8 1335.3" fill="none" stroke-width="0.45"/>
<path d="M318.7 1324.5H328.4Q330.4 1324.5 330.4 1326.5V1334.5Q330.4 1336.5 328.4 1336.5H318.7Z" fill="url(#h1)" stroke-width="0.8"/>
<path d="M307.8 1276.5L307.8 1378.9" fill="none" stroke-width="0.35" stroke-dasharray="6 1.5 1 1.5"/>
<rect x="292.8" y="1377.8" width="15.0" height="29.8" fill="#fff" stroke-width="0.8"/>
<path d="M300.3 1377.8L300.3 1407.6" fill="none" stroke-width="0.45"/>
<path d="M307.8 1377.8L320.2 1377.8L322.2 1379.8L322.2 1389.8L307.8 1389.8Z" fill="url(#h1)" stroke-width="0.8"/>
<rect x="322.2" y="1388.4" width="6.0" height="5.6" fill="#fff" stroke-width="0.6"/>
<rect x="328.2" y="1390.0" width="4.0" height="4.0" fill="#fff" stroke-width="0.6"/>
<rect x="309.8" y="1391.8" width="22.4" height="5.4" fill="#fff" stroke-width="0.55"/>
<path d="M313.8 1397.2L332.2 1397.2L332.2 1403.0L326.2 1403.0L326.2 1406.0L313.8 1406.0Z" fill="url(#h2)" stroke-width="0.6"/>
<rect x="332.2" y="1391.2" width="4.5" height="6.8" fill="#fff" stroke-width="0.6"/>
<path d="M336.7 1392.7L339.4 1391.4L340.3 1391.4L340.3 1397.8L339.4 1397.8L336.7 1396.5Z" fill="#fff" stroke-width="0.55"/>
<path d="M340.3 1392.7L342.9 1391.4L343.8 1391.4L343.8 1397.8L342.9 1397.8L340.3 1396.5Z" fill="#fff" stroke-width="0.55"/>
<path d="M343.8 1392.7L346.4 1391.4L347.3 1391.4L347.3 1397.8L346.4 1397.8L343.8 1396.5Z" fill="#fff" stroke-width="0.55"/>
<path d="M332.2 1394.6L347.3 1394.6" fill="none" stroke-width="0.35" stroke-dasharray="4 1.2 1 1.2"/>
<rect x="297.0" y="1407.6" width="10.8" height="18.2" fill="#fff" stroke-width="0.8"/>
<path d="M297.0 1412.5L307.8 1412.5" fill="none" stroke-width="0.45"/>
<path d="M307.8 1389.8L313.8 1389.8L313.8 1407.5L312.8 1407.5L312.8 1425.8L307.8 1425.8Z" fill="url(#h1)" stroke-width="0.8"/>
<path d="M299.8 1425.8L307.8 1425.8L307.8 1449.0L294.8 1449.0L294.8 1444.0L299.8 1441.0L299.3 1436.0L301.3 1433.0Z" fill="#fff" stroke-width="0.8"/>
<path d="M307.8 1425.8L309.8 1425.8L311.2 1444.0L309.3 1449.0L307.8 1449.0Z" fill="url(#h3)" stroke-width="0.5"/>
<path d="M294.8 1449.0L294.8 1460.5" fill="none" stroke-width="0.45"/>
<path d="M309.3 1449.0L309.3 1460.5" fill="none" stroke-width="0.45"/>
<path d="M294.8 1459.7L309.3 1459.7" fill="none" stroke-width="0.5"/>
<text x="302.0" y="1457.6" font-size="7.8" text-anchor="middle" fill="#484848" stroke="none">φA</text>
<path d="M309.3 1425.8L370.5 1425.8" fill="none" stroke-width="0.45"/>
<path d="M309.8 1448.7L381.0 1448.7" fill="none" stroke-width="0.45"/>
<path d="M313.1 1278.5L381.0 1278.5" fill="none" stroke-width="0.45"/>
<path d="M368.9 1425.8L368.9 1448.7" fill="none" stroke-width="0.45"/>
<path d="M379.2 1278.5L379.2 1448.7" fill="none" stroke-width="0.45"/>
<path d="M367.7 1425.8L370.1 1425.8" fill="none" stroke-width="0.9"/>
<path d="M367.7 1448.7L370.1 1448.7" fill="none" stroke-width="0.9"/>
<path d="M378.0 1278.5L380.4 1278.5" fill="none" stroke-width="0.9"/>
<path d="M378.0 1448.7L380.4 1448.7" fill="none" stroke-width="0.9"/>
<text x="366.8" y="1437.5" font-size="7.8" text-anchor="middle" fill="#484848" stroke="none" transform="rotate(-90 366.8 1437.5)">C</text>
<text x="377.0" y="1363.5" font-size="7.8" text-anchor="middle" fill="#484848" stroke="none" transform="rotate(-90 377.0 1363.5)">B</text>
<rect x="453.5" y="1363.4" width="10.3" height="39.6" fill="#fff" stroke-width="0"/>
<path d="M453.5 1363.8L463.8 1364.9L463.8 1365.6L453.5 1366.0L453.5 1366.4L463.8 1367.5L463.8 1368.3L453.5 1368.7L453.5 1369.1L463.8 1370.1L463.8 1370.9L453.5 1371.3L453.5 1371.7L463.8 1372.8L463.8 1373.6L453.5 1374.0L453.5 1374.4L463.8 1375.4L463.8 1376.2L453.5 1376.6L453.5 1377.0L463.8 1378.1L463.8 1378.8L453.5 1379.2L453.5 1379.6L463.8 1380.7L463.8 1381.5L453.5 1381.9L453.5 1382.3L463.8 1383.3L463.8 1384.1L453.5 1384.5L453.5 1384.9L463.8 1386.0L463.8 1386.8L453.5 1387.2L453.5 1387.6L463.8 1388.6L463.8 1389.4L453.5 1389.8L453.5 1390.2L463.8 1391.3L463.8 1392.0L453.5 1392.4L453.5 1392.8L463.8 1393.9L463.8 1394.7L453.5 1395.1L453.5 1395.5L463.8 1396.5L463.8 1397.3L453.5 1397.7L453.5 1398.1L463.8 1399.2L463.8 1400.0L453.5 1400.4L453.5 1400.8L463.8 1401.8L463.8 1402.6L453.5 1403.0" fill="none" stroke-width="0.7"/>
<path d="M453.5 1363.4L453.5 1403.0" fill="none" stroke-width="0.5"/>
<rect x="463.8" y="1304.4" width="5.2" height="98.6" fill="url(#h3)" stroke-width="0.5"/>
<rect x="463.8" y="1319.4" width="4.2" height="26.1" fill="#fff" stroke-width="0.5"/>
<rect x="469.5" y="1311.1" width="4.4" height="91.9" fill="url(#h2)" stroke-width="0.5"/>
<rect x="473.9" y="1311.5" width="4.8" height="34.5" rx="1" fill="url(#h1)" stroke-width="0.6"/>
<rect x="448.7" y="1312.1" width="15.1" height="33.9" fill="#fff" stroke-width="0.8"/>
<path d="M457.0 1312.1L457.0 1346.0" fill="none" stroke-width="0.4"/>
<rect x="453.5" y="1304.4" width="10.3" height="6.7" fill="#fff" stroke-width="0.8"/>
<rect x="463.8" y="1304.4" width="10.1" height="6.7" fill="url(#h1)" stroke-width="0.8"/>
<path d="M463.8 1319.4H444.1Q441.9 1319.4 441.9 1321.6V1327.3Q441.9 1329.5 444.1 1329.5H463.8Z" fill="#fff" stroke-width="0.8"/>
<path d="M452.4 1319.4L452.4 1329.5" fill="none" stroke-width="0.5"/>
<path d="M452.4 1319.8Q458.1 1321.6 463.8 1320.6M452.4 1329.1Q458.1 1327.3 463.8 1328.3" fill="none" stroke-width="0.45"/>
<path d="M478.7 1319.4H483.3Q485.5 1319.4 485.5 1321.6V1327.3Q485.5 1329.5 483.3 1329.5H478.7Z" fill="#fff" stroke-width="0.8"/>
<path d="M463.8 1329.5H444.1Q441.9 1329.5 441.9 1331.7V1337.6Q441.9 1339.8 444.1 1339.8H463.8Z" fill="#fff" stroke-width="0.8"/>
<path d="M452.4 1329.5L452.4 1339.8" fill="none" stroke-width="0.5"/>
<path d="M452.4 1329.9Q458.1 1331.7 463.8 1330.7M452.4 1339.4Q458.1 1337.6 463.8 1338.6" fill="none" stroke-width="0.45"/>
<path d="M478.7 1329.5H483.3Q485.5 1329.5 485.5 1331.7V1337.6Q485.5 1339.8 483.3 1339.8H478.7Z" fill="#fff" stroke-width="0.8"/>
<path d="M463.8 1350.8H444.1Q441.9 1350.8 441.9 1353.0V1361.2Q441.9 1363.4 444.1 1363.4H463.8Z" fill="#fff" stroke-width="0.8"/>
<path d="M452.4 1350.8L452.4 1363.4" fill="none" stroke-width="0.5"/>
<path d="M452.4 1351.2Q458.1 1353.0 463.8 1352.0M452.4 1363.0Q458.1 1361.2 463.8 1362.2" fill="none" stroke-width="0.45"/>
<path d="M473.9 1350.8H483.5Q485.5 1350.8 485.5 1352.8V1361.4Q485.5 1363.4 483.5 1363.4H473.9Z" fill="url(#h1)" stroke-width="0.8"/>
<path d="M463.8 1302.4L463.8 1405.0" fill="none" stroke-width="0.35" stroke-dasharray="6 1.5 1 1.5"/>
<rect x="448.8" y="1404.0" width="15.0" height="30.0" fill="#fff" stroke-width="0.8"/>
<path d="M456.3 1404.0L456.3 1434.0" fill="none" stroke-width="0.45"/>
<path d="M463.8 1404.0L476.2 1404.0L478.2 1406.0L478.2 1416.0L463.8 1416.0Z" fill="url(#h1)" stroke-width="0.8"/>
<rect x="478.2" y="1414.6" width="6.0" height="5.6" fill="#fff" stroke-width="0.6"/>
<rect x="484.2" y="1416.2" width="4.0" height="4.0" fill="#fff" stroke-width="0.6"/>
<rect x="465.8" y="1418.0" width="22.4" height="5.4" fill="#fff" stroke-width="0.55"/>
<path d="M469.8 1423.4L488.2 1423.4L488.2 1429.2L482.2 1429.2L482.2 1432.2L469.8 1432.2Z" fill="url(#h2)" stroke-width="0.6"/>
<rect x="488.2" y="1417.4" width="8.8" height="6.8" fill="#fff" stroke-width="0.6"/>
<path d="M497.0 1418.9L502.1 1417.6L503.8 1417.6L503.8 1424.0L502.1 1424.0L497.0 1422.7Z" fill="#fff" stroke-width="0.55"/>
<path d="M503.8 1418.9L508.9 1417.6L510.6 1417.6L510.6 1424.0L508.9 1424.0L503.8 1422.7Z" fill="#fff" stroke-width="0.55"/>
<path d="M510.6 1418.9L515.7 1417.6L517.4 1417.6L517.4 1424.0L515.7 1424.0L510.6 1422.7Z" fill="#fff" stroke-width="0.55"/>
<path d="M488.2 1420.8L517.4 1420.8" fill="none" stroke-width="0.35" stroke-dasharray="4 1.2 1 1.2"/>
<rect x="453.5" y="1434.0" width="10.3" height="13.6" fill="#fff" stroke-width="0.8"/>
<path d="M453.5 1438.0L463.8 1438.0" fill="none" stroke-width="0.45"/>
<rect x="458.0" y="1447.6" width="5.8" height="16.4" fill="#fff" stroke-width="0.6"/>
<path d="M458.0 1453.0L463.8 1453.0" fill="none" stroke-width="0.45"/>
<path d="M458.0 1458.0L463.8 1458.0" fill="none" stroke-width="0.45"/>
<path d="M463.8 1416.0L469.8 1416.0L469.8 1432.0L473.8 1432.0L473.8 1441.0L468.8 1450.0L468.8 1463.5L463.8 1464.0Z" fill="url(#h1)" stroke-width="0.8"/>
<path d="M474.0 1304.4L532.5 1304.4" fill="none" stroke-width="0.45"/>
<path d="M479.0 1311.7L532.5 1311.7" fill="none" stroke-width="0.45"/>
<path d="M485.5 1349.8L532.5 1349.8" fill="none" stroke-width="0.45"/>
<path d="M485.5 1363.4L532.5 1363.4" fill="none" stroke-width="0.45"/>
<path d="M478.5 1403.4L532.5 1403.4" fill="none" stroke-width="0.45"/>
<path d="M474.0 1439.2L532.5 1439.2" fill="none" stroke-width="0.45"/>
<path d="M469.0 1463.4L532.5 1463.4" fill="none" stroke-width="0.45"/>
<path d="M529.8 1304.4L532.2 1304.4" fill="none" stroke-width="0.9"/>
<path d="M529.8 1311.7L532.2 1311.7" fill="none" stroke-width="0.9"/>
<path d="M529.8 1349.8L532.2 1349.8" fill="none" stroke-width="0.9"/>
<path d="M529.8 1363.4L532.2 1363.4" fill="none" stroke-width="0.9"/>
<path d="M529.8 1403.4L532.2 1403.4" fill="none" stroke-width="0.9"/>
<path d="M529.8 1439.2L532.2 1439.2" fill="none" stroke-width="0.9"/>
<path d="M529.8 1463.4L532.2 1463.4" fill="none" stroke-width="0.9"/>
<text x="528.6" y="1308.8" font-size="7.8" text-anchor="middle" fill="#484848" stroke="none" transform="rotate(-90 528.6 1308.8)">3</text>
<text x="528.6" y="1331.2" font-size="7.8" text-anchor="middle" fill="#484848" stroke="none" transform="rotate(-90 528.6 1331.2)">15</text>
<text x="528.6" y="1357.2" font-size="7.8" text-anchor="middle" fill="#484848" stroke="none" transform="rotate(-90 528.6 1357.2)">5</text>
<text x="528.6" y="1421.7" font-size="7.8" text-anchor="middle" fill="#484848" stroke="none" transform="rotate(-90 528.6 1421.7)">14</text>
<text x="528.6" y="1451.7" font-size="7.8" text-anchor="middle" fill="#484848" stroke="none" transform="rotate(-90 528.6 1451.7)">9.5</text>
<path d="M531.0 1304.4L531.0 1363.4" fill="none" stroke-width="0.45"/>
<path d="M531.0 1403.4L531.0 1463.4" fill="none" stroke-width="0.45"/>
<text x="516.0" y="1417.0" font-size="5.6" text-anchor="middle" fill="#484848" stroke="none" transform="rotate(-90 516.0 1417.0)">φ3 ,φ5</text>
<text x="417.9" y="1301.5" font-size="6.38778" text-anchor="start" fill="#484848" stroke="none">M12x1.0</text>
<path d="M417.4 1303.3L442.9 1303.3" fill="none" stroke-width="0.5"/>
<path d="M442.9 1303.3L448.7 1317.0" fill="none" stroke-width="0.5"/>
<text x="432.8" y="1403.8" font-size="5.77823" text-anchor="start" fill="#484848" stroke="none">10H</text>
<path d="M432.3 1405.4L443.9 1405.4" fill="none" stroke-width="0.5"/>
<path d="M443.9 1405.4L455.5 1420.5" fill="none" stroke-width="0.5"/>
<rect x="554.8" y="1337.0" width="10.3" height="39.6" fill="#fff" stroke-width="0"/>
<path d="M554.8 1337.4L565.1 1338.5L565.1 1339.2L554.8 1339.6L554.8 1340.0L565.1 1341.1L565.1 1341.9L554.8 1342.3L554.8 1342.7L565.1 1343.7L565.1 1344.5L554.8 1344.9L554.8 1345.3L565.1 1346.4L565.1 1347.2L554.8 1347.6L554.8 1348.0L565.1 1349.0L565.1 1349.8L554.8 1350.2L554.8 1350.6L565.1 1351.7L565.1 1352.4L554.8 1352.8L554.8 1353.2L565.1 1354.3L565.1 1355.1L554.8 1355.5L554.8 1355.9L565.1 1356.9L565.1 1357.7L554.8 1358.1L554.8 1358.5L565.1 1359.6L565.1 1360.4L554.8 1360.8L554.8 1361.2L565.1 1362.2L565.1 1363.0L554.8 1363.4L554.8 1363.8L565.1 1364.9L565.1 1365.6L554.8 1366.0L554.8 1366.4L565.1 1367.5L565.1 1368.3L554.8 1368.7L554.8 1369.1L565.1 1370.1L565.1 1370.9L554.8 1371.3L554.8 1371.7L565.1 1372.8L565.1 1373.6L554.8 1374.0L554.8 1374.4L565.1 1375.4L565.1 1376.2L554.8 1376.6" fill="none" stroke-width="0.7"/>
<path d="M554.8 1337.0L554.8 1376.6" fill="none" stroke-width="0.5"/>
<rect x="565.1" y="1278.0" width="5.2" height="98.6" fill="url(#h3)" stroke-width="0.5"/>
<rect x="565.1" y="1293.0" width="4.2" height="26.1" fill="#fff" stroke-width="0.5"/>
<rect x="570.8" y="1284.7" width="4.4" height="91.9" fill="url(#h2)" stroke-width="0.5"/>
<rect x="575.2" y="1285.1" width="4.8" height="34.5" rx="1" fill="url(#h1)" stroke-width="0.6"/>
<rect x="550.0" y="1285.7" width="15.1" height="33.9" fill="#fff" stroke-width="0.8"/>
<path d="M558.3 1285.7L558.3 1319.6" fill="none" stroke-width="0.4"/>
<rect x="554.8" y="1278.0" width="10.3" height="6.7" fill="#fff" stroke-width="0.8"/>
<rect x="565.1" y="1278.0" width="10.1" height="6.7" fill="url(#h1)" stroke-width="0.8"/>
<path d="M565.1 1293.0H545.4Q543.2 1293.0 543.2 1295.2V1300.9Q543.2 1303.1 545.4 1303.1H565.1Z" fill="#fff" stroke-width="0.8"/>
<path d="M553.7 1293.0L553.7 1303.1" fill="none" stroke-width="0.5"/>
<path d="M553.7 1293.4Q559.4 1295.2 565.1 1294.2M553.7 1302.7Q559.4 1300.9 565.1 1301.9" fill="none" stroke-width="0.45"/>
<path d="M580.0 1293.0H584.6Q586.8 1293.0 586.8 1295.2V1300.9Q586.8 1303.1 584.6 1303.1H580.0Z" fill="#fff" stroke-width="0.8"/>
<path d="M565.1 1303.1H545.4Q543.2 1303.1 543.2 1305.3V1311.2Q543.2 1313.4 545.4 1313.4H565.1Z" fill="#fff" stroke-width="0.8"/>
<path d="M553.7 1303.1L553.7 1313.4" fill="none" stroke-width="0.5"/>
<path d="M553.7 1303.5Q559.4 1305.3 565.1 1304.3M553.7 1313.0Q559.4 1311.2 565.1 1312.2" fill="none" stroke-width="0.45"/>
<path d="M580.0 1303.1H584.6Q586.8 1303.1 586.8 1305.3V1311.2Q586.8 1313.4 584.6 1313.4H580.0Z" fill="#fff" stroke-width="0.8"/>
<path d="M565.1 1324.4H545.4Q543.2 1324.4 543.2 1326.6V1334.8Q543.2 1337.0 545.4 1337.0H565.1Z" fill="#fff" stroke-width="0.8"/>
<path d="M553.7 1324.4L553.7 1337.0" fill="none" stroke-width="0.5"/>
<path d="M553.7 1324.8Q559.4 1326.6 565.1 1325.6M553.7 1336.6Q559.4 1334.8 565.1 1335.8" fill="none" stroke-width="0.45"/>
<path d="M575.2 1324.4H584.8Q586.8 1324.4 586.8 1326.4V1335.0Q586.8 1337.0 584.8 1337.0H575.2Z" fill="url(#h1)" stroke-width="0.8"/>
<path d="M565.1 1276.0L565.1 1378.6" fill="none" stroke-width="0.35" stroke-dasharray="6 1.5 1 1.5"/>
<rect x="550.1" y="1377.6" width="15.0" height="34.0" fill="#fff" stroke-width="0.8"/>
<path d="M557.6 1377.6L557.6 1411.6" fill="none" stroke-width="0.45"/>
<path d="M565.1 1377.6L577.5 1377.6L579.5 1379.6L579.5 1389.6L565.1 1389.6Z" fill="url(#h1)" stroke-width="0.8"/>
<rect x="579.5" y="1388.2" width="6.0" height="5.6" fill="#fff" stroke-width="0.6"/>
<rect x="585.5" y="1389.8" width="4.0" height="4.0" fill="#fff" stroke-width="0.6"/>
<rect x="567.1" y="1391.6" width="22.4" height="5.4" fill="#fff" stroke-width="0.55"/>
<path d="M571.1 1397.0L589.5 1397.0L589.5 1402.8L583.5 1402.8L583.5 1405.8L571.1 1405.8Z" fill="url(#h2)" stroke-width="0.6"/>
<rect x="589.5" y="1391.0" width="6.5" height="6.8" fill="#fff" stroke-width="0.6"/>
<path d="M596.0 1392.5L599.9 1391.2L601.1 1391.2L601.1 1397.6L599.9 1397.6L596.0 1396.3Z" fill="#fff" stroke-width="0.55"/>
<path d="M601.1 1392.5L604.9 1391.2L606.2 1391.2L606.2 1397.6L604.9 1397.6L601.1 1396.3Z" fill="#fff" stroke-width="0.55"/>
<path d="M606.2 1392.5L610.0 1391.2L611.3 1391.2L611.3 1397.6L610.0 1397.6L606.2 1396.3Z" fill="#fff" stroke-width="0.55"/>
<path d="M589.5 1394.4L611.3 1394.4" fill="none" stroke-width="0.35" stroke-dasharray="4 1.2 1 1.2"/>
<rect x="555.3" y="1411.7" width="9.8" height="34.3" fill="#fff" stroke-width="0.8"/>
<path d="M555.3 1416.0L565.1 1416.0" fill="none" stroke-width="0.45"/>
<path d="M561.1 1416.0L561.1 1446.0" fill="none" stroke-width="0.4"/>
<path d="M555.3 1446.0L565.1 1446.0L565.1 1449.0L557.6 1449.0Z" fill="#fff" stroke-width="0.6"/>
<path d="M565.1 1390.0L571.1 1390.0L571.1 1405.0L579.6 1405.0L579.6 1440.0L574.1 1449.0L565.1 1449.0Z" fill="url(#h1)" stroke-width="0.8"/>
<rect x="562.6" y="1449.0" width="5.4" height="15.1" fill="#fff" stroke-width="0.6"/>
<path d="M565.3 1449.0L565.3 1464.0" fill="none" stroke-width="0.4"/>
<text x="577.6" y="1461.8" font-size="7.8" text-anchor="middle" fill="#484848" stroke="none">φA</text>
<path d="M579.6 1420.8L634.5 1420.8" fill="none" stroke-width="0.45"/>
<path d="M568.1 1452.6L644.5 1452.6" fill="none" stroke-width="0.45"/>
<path d="M575.2 1278.0L644.5 1278.0" fill="none" stroke-width="0.45"/>
<path d="M633.0 1420.8L633.0 1452.6" fill="none" stroke-width="0.45"/>
<path d="M642.8 1278.0L642.8 1452.6" fill="none" stroke-width="0.45"/>
<path d="M631.8 1420.8L634.2 1420.8" fill="none" stroke-width="0.9"/>
<path d="M631.8 1452.6L634.2 1452.6" fill="none" stroke-width="0.9"/>
<path d="M641.6 1278.0L644.0 1278.0" fill="none" stroke-width="0.9"/>
<path d="M641.6 1452.6L644.0 1452.6" fill="none" stroke-width="0.9"/>
<text x="630.8" y="1437.5" font-size="7.8" text-anchor="middle" fill="#484848" stroke="none" transform="rotate(-90 630.8 1437.5)">C</text>
<text x="640.6" y="1366.0" font-size="7.8" text-anchor="middle" fill="#484848" stroke="none" transform="rotate(-90 640.6 1366.0)">B</text>
<rect x="726.8" y="1363.3" width="12.8" height="43.3" fill="#fff" stroke-width="0"/>
<path d="M726.8 1363.7L739.6 1364.9L739.6 1365.8L726.8 1366.2L726.8 1366.6L739.6 1367.8L739.6 1368.6L726.8 1369.1L726.8 1369.5L739.6 1370.7L739.6 1371.5L726.8 1372.0L726.8 1372.4L739.6 1373.5L739.6 1374.4L726.8 1374.8L726.8 1375.3L739.6 1376.4L739.6 1377.3L726.8 1377.7L726.8 1378.2L739.6 1379.3L739.6 1380.2L726.8 1380.6L726.8 1381.1L739.6 1382.2L739.6 1383.1L726.8 1383.5L726.8 1383.9L739.6 1385.1L739.6 1386.0L726.8 1386.4L726.8 1386.8L739.6 1388.0L739.6 1388.8L726.8 1389.3L726.8 1389.7L739.6 1390.9L739.6 1391.7L726.8 1392.2L726.8 1392.6L739.6 1393.8L739.6 1394.6L726.8 1395.1L726.8 1395.5L739.6 1396.6L739.6 1397.5L726.8 1397.9L726.8 1398.4L739.6 1399.5L739.6 1400.4L726.8 1400.8L726.8 1401.3L739.6 1402.4L739.6 1403.3L726.8 1403.7L726.8 1404.1L739.6 1405.3L739.6 1406.2L726.8 1406.6" fill="none" stroke-width="0.7"/>
<path d="M726.8 1363.3L726.8 1406.6" fill="none" stroke-width="0.5"/>
<rect x="739.6" y="1300.2" width="5.2" height="106.4" fill="url(#h3)" stroke-width="0.5"/>
<rect x="739.6" y="1316.4" width="4.2" height="29.6" fill="#fff" stroke-width="0.5"/>
<rect x="745.3" y="1307.9" width="4.7" height="98.7" fill="url(#h2)" stroke-width="0.5"/>
<rect x="750.0" y="1308.3" width="3.9" height="38.2" rx="1" fill="url(#h1)" stroke-width="0.6"/>
<rect x="722.9" y="1308.4" width="16.7" height="38.1" fill="#fff" stroke-width="0.8"/>
<path d="M732.1 1308.4L732.1 1346.5" fill="none" stroke-width="0.4"/>
<rect x="728.7" y="1300.2" width="10.9" height="7.7" fill="#fff" stroke-width="0.8"/>
<rect x="739.6" y="1300.2" width="10.4" height="7.7" fill="url(#h1)" stroke-width="0.8"/>
<path d="M739.6 1316.4H716.2Q714.0 1316.4 714.0 1318.6V1325.1Q714.0 1327.3 716.2 1327.3H739.6Z" fill="#fff" stroke-width="0.8"/>
<path d="M726.3 1316.4L726.3 1327.3" fill="none" stroke-width="0.5"/>
<path d="M726.3 1316.8Q732.9 1318.6 739.6 1317.6M726.3 1326.9Q732.9 1325.1 739.6 1326.1" fill="none" stroke-width="0.45"/>
<path d="M753.9 1316.4H761.4Q763.6 1316.4 763.6 1318.6V1325.1Q763.6 1327.3 761.4 1327.3H753.9Z" fill="#fff" stroke-width="0.8"/>
<path d="M739.6 1327.3H716.2Q714.0 1327.3 714.0 1329.5V1335.9Q714.0 1338.1 716.2 1338.1H739.6Z" fill="#fff" stroke-width="0.8"/>
<path d="M726.3 1327.3L726.3 1338.1" fill="none" stroke-width="0.5"/>
<path d="M726.3 1327.7Q732.9 1329.5 739.6 1328.5M726.3 1337.7Q732.9 1335.9 739.6 1336.9" fill="none" stroke-width="0.45"/>
<path d="M753.9 1327.3H761.4Q763.6 1327.3 763.6 1329.5V1335.9Q763.6 1338.1 761.4 1338.1H753.9Z" fill="#fff" stroke-width="0.8"/>
<path d="M739.6 1350.5H716.2Q714.0 1350.5 714.0 1352.7V1361.1Q714.0 1363.3 716.2 1363.3H739.6Z" fill="#fff" stroke-width="0.8"/>
<path d="M726.3 1350.5L726.3 1363.3" fill="none" stroke-width="0.5"/>
<path d="M726.3 1350.9Q732.9 1352.7 739.6 1351.7M726.3 1362.9Q732.9 1361.1 739.6 1362.1" fill="none" stroke-width="0.45"/>
<path d="M750.0 1350.5H761.6Q763.6 1350.5 763.6 1352.5V1361.3Q763.6 1363.3 761.6 1363.3H750.0Z" fill="url(#h1)" stroke-width="0.8"/>
<path d="M739.6 1298.2L739.6 1408.6" fill="none" stroke-width="0.35" stroke-dasharray="6 1.5 1 1.5"/>
<rect x="721.7" y="1408.6" width="17.9" height="42.6" fill="#fff" stroke-width="0.8"/>
<path d="M730.6 1408.6L730.6 1451.2" fill="none" stroke-width="0.45"/>
<path d="M739.6 1408.6L751.9 1408.6L753.9 1410.6L753.9 1420.6L739.6 1420.6Z" fill="url(#h1)" stroke-width="0.8"/>
<rect x="753.9" y="1422.4" width="6.0" height="5.6" fill="#fff" stroke-width="0.6"/>
<rect x="759.9" y="1424.0" width="4.0" height="4.0" fill="#fff" stroke-width="0.6"/>
<rect x="741.6" y="1425.8" width="22.3" height="5.4" fill="#fff" stroke-width="0.55"/>
<path d="M745.6 1431.2L763.9 1431.2L763.9 1437.0L757.9 1437.0L757.9 1440.0L745.6 1440.0Z" fill="url(#h2)" stroke-width="0.6"/>
<rect x="763.9" y="1425.2" width="9.2" height="6.8" fill="#fff" stroke-width="0.6"/>
<path d="M773.1 1426.7L778.5 1425.4L780.3 1425.4L780.3 1431.8L778.5 1431.8L773.1 1430.5Z" fill="#fff" stroke-width="0.55"/>
<path d="M780.3 1426.7L785.6 1425.4L787.4 1425.4L787.4 1431.8L785.6 1431.8L780.3 1430.5Z" fill="#fff" stroke-width="0.55"/>
<path d="M787.4 1426.7L792.8 1425.4L794.6 1425.4L794.6 1431.8L792.8 1431.8L787.4 1430.5Z" fill="#fff" stroke-width="0.55"/>
<path d="M763.9 1428.6L794.6 1428.6" fill="none" stroke-width="0.35" stroke-dasharray="4 1.2 1 1.2"/>
<path d="M739.6 1434.0L744.6 1434.0L744.6 1440.0L753.9 1440.0L753.9 1451.2L739.6 1451.2Z" fill="url(#h1)" stroke-width="0.8"/>
<rect x="730.6" y="1453.0" width="9.0" height="10.5" fill="#fff" stroke-width="0.6"/>
<rect x="739.6" y="1453.0" width="8.4" height="10.5" fill="url(#h1)" stroke-width="0.6"/>
<path d="M750.0 1300.2L813.5 1300.2" fill="none" stroke-width="0.45"/>
<path d="M754.0 1307.9L813.5 1307.9" fill="none" stroke-width="0.45"/>
<path d="M763.6 1349.7L813.5 1349.7" fill="none" stroke-width="0.45"/>
<path d="M763.6 1363.3L813.5 1363.3" fill="none" stroke-width="0.45"/>
<path d="M754.0 1408.6L813.5 1408.6" fill="none" stroke-width="0.45"/>
<path d="M754.0 1445.3L813.5 1445.3" fill="none" stroke-width="0.45"/>
<path d="M748.0 1463.5L813.5 1463.5" fill="none" stroke-width="0.45"/>
<path d="M810.8 1300.2L813.2 1300.2" fill="none" stroke-width="0.9"/>
<path d="M810.8 1307.9L813.2 1307.9" fill="none" stroke-width="0.9"/>
<path d="M810.8 1349.7L813.2 1349.7" fill="none" stroke-width="0.9"/>
<path d="M810.8 1363.3L813.2 1363.3" fill="none" stroke-width="0.9"/>
<path d="M810.8 1408.6L813.2 1408.6" fill="none" stroke-width="0.9"/>
<path d="M810.8 1445.3L813.2 1445.3" fill="none" stroke-width="0.9"/>
<path d="M810.8 1463.5L813.2 1463.5" fill="none" stroke-width="0.9"/>
<text x="809.6" y="1305.0" font-size="7.8" text-anchor="middle" fill="#484848" stroke="none" transform="rotate(-90 809.6 1305.0)">3</text>
<text x="809.6" y="1329.2" font-size="7.8" text-anchor="middle" fill="#484848" stroke="none" transform="rotate(-90 809.6 1329.2)">15</text>
<text x="809.6" y="1357.2" font-size="7.8" text-anchor="middle" fill="#484848" stroke="none" transform="rotate(-90 809.6 1357.2)">5</text>
<text x="809.6" y="1427.7" font-size="7.8" text-anchor="middle" fill="#484848" stroke="none" transform="rotate(-90 809.6 1427.7)">15</text>
<text x="809.6" y="1455.2" font-size="7.8" text-anchor="middle" fill="#484848" stroke="none" transform="rotate(-90 809.6 1455.2)">5</text>
<path d="M812.0 1300.2L812.0 1363.3" fill="none" stroke-width="0.45"/>
<path d="M812.0 1408.6L812.0 1463.5" fill="none" stroke-width="0.45"/>
<rect x="785.5" y="1423.5" width="8.0" height="9.5" fill="none" stroke-width="0.5"/>
<text x="791.8" y="1428.3" font-size="5.8" text-anchor="middle" fill="#484848" stroke="none" transform="rotate(-90 791.8 1428.3)">φ5</text>
<text x="693.5" y="1301.6" font-size="7.03959" text-anchor="start" fill="#484848" stroke="none">M12x1.0</text>
<path d="M693.0 1303.6L721.0 1303.6" fill="none" stroke-width="0.5"/>
<path d="M721.0 1303.6L722.9 1313.7" fill="none" stroke-width="0.5"/>
<text x="705.2" y="1411.6" font-size="7.25004" text-anchor="start" fill="#484848" stroke="none">10H</text>
<path d="M704.7 1413.6L719.0 1413.6" fill="none" stroke-width="0.5"/>
<path d="M719.0 1413.6L727.6 1428.0" fill="none" stroke-width="0.5"/>
<rect x="837.1" y="1342.0" width="12.8" height="43.3" fill="#fff" stroke-width="0"/>
<path d="M837.1 1342.4L849.9 1343.6L849.9 1344.5L837.1 1344.9L837.1 1345.3L849.9 1346.5L849.9 1347.3L837.1 1347.8L837.1 1348.2L849.9 1349.4L849.9 1350.2L837.1 1350.7L837.1 1351.1L849.9 1352.2L849.9 1353.1L837.1 1353.5L837.1 1354.0L849.9 1355.1L849.9 1356.0L837.1 1356.4L837.1 1356.9L849.9 1358.0L849.9 1358.9L837.1 1359.3L837.1 1359.8L849.9 1360.9L849.9 1361.8L837.1 1362.2L837.1 1362.6L849.9 1363.8L849.9 1364.7L837.1 1365.1L837.1 1365.5L849.9 1366.7L849.9 1367.5L837.1 1368.0L837.1 1368.4L849.9 1369.6L849.9 1370.4L837.1 1370.9L837.1 1371.3L849.9 1372.5L849.9 1373.3L837.1 1373.8L837.1 1374.2L849.9 1375.3L849.9 1376.2L837.1 1376.6L837.1 1377.1L849.9 1378.2L849.9 1379.1L837.1 1379.5L837.1 1380.0L849.9 1381.1L849.9 1382.0L837.1 1382.4L837.1 1382.8L849.9 1384.0L849.9 1384.9L837.1 1385.3" fill="none" stroke-width="0.7"/>
<path d="M837.1 1342.0L837.1 1385.3" fill="none" stroke-width="0.5"/>
<rect x="849.9" y="1278.9" width="5.2" height="106.4" fill="url(#h3)" stroke-width="0.5"/>
<rect x="849.9" y="1295.1" width="4.2" height="29.6" fill="#fff" stroke-width="0.5"/>
<rect x="855.6" y="1286.6" width="4.7" height="98.7" fill="url(#h2)" stroke-width="0.5"/>
<rect x="860.3" y="1287.0" width="3.9" height="38.2" rx="1" fill="url(#h1)" stroke-width="0.6"/>
<rect x="833.2" y="1287.1" width="16.7" height="38.1" fill="#fff" stroke-width="0.8"/>
<path d="M842.4 1287.1L842.4 1325.2" fill="none" stroke-width="0.4"/>
<rect x="839.0" y="1278.9" width="10.9" height="7.7" fill="#fff" stroke-width="0.8"/>
<rect x="849.9" y="1278.9" width="10.4" height="7.7" fill="url(#h1)" stroke-width="0.8"/>
<path d="M849.9 1295.1H826.5Q824.3 1295.1 824.3 1297.3V1303.8Q824.3 1306.0 826.5 1306.0H849.9Z" fill="#fff" stroke-width="0.8"/>
<path d="M836.6 1295.1L836.6 1306.0" fill="none" stroke-width="0.5"/>
<path d="M836.6 1295.5Q843.2 1297.3 849.9 1296.3M836.6 1305.6Q843.2 1303.8 849.9 1304.8" fill="none" stroke-width="0.45"/>
<path d="M864.2 1295.1H871.7Q873.9 1295.1 873.9 1297.3V1303.8Q873.9 1306.0 871.7 1306.0H864.2Z" fill="#fff" stroke-width="0.8"/>
<path d="M849.9 1306.0H826.5Q824.3 1306.0 824.3 1308.2V1314.6Q824.3 1316.8 826.5 1316.8H849.9Z" fill="#fff" stroke-width="0.8"/>
<path d="M836.6 1306.0L836.6 1316.8" fill="none" stroke-width="0.5"/>
<path d="M836.6 1306.4Q843.2 1308.2 849.9 1307.2M836.6 1316.4Q843.2 1314.6 849.9 1315.6" fill="none" stroke-width="0.45"/>
<path d="M864.2 1306.0H871.7Q873.9 1306.0 873.9 1308.2V1314.6Q873.9 1316.8 871.7 1316.8H864.2Z" fill="#fff" stroke-width="0.8"/>
<path d="M849.9 1329.2H826.5Q824.3 1329.2 824.3 1331.4V1339.8Q824.3 1342.0 826.5 1342.0H849.9Z" fill="#fff" stroke-width="0.8"/>
<path d="M836.6 1329.2L836.6 1342.0" fill="none" stroke-width="0.5"/>
<path d="M836.6 1329.6Q843.2 1331.4 849.9 1330.4M836.6 1341.6Q843.2 1339.8 849.9 1340.8" fill="none" stroke-width="0.45"/>
<path d="M860.3 1329.2H871.9Q873.9 1329.2 873.9 1331.2V1340.0Q873.9 1342.0 871.9 1342.0H860.3Z" fill="url(#h1)" stroke-width="0.8"/>
<path d="M849.9 1276.9L849.9 1387.3" fill="none" stroke-width="0.35" stroke-dasharray="6 1.5 1 1.5"/>
<rect x="832.5" y="1387.3" width="17.4" height="40.6" fill="#fff" stroke-width="0.8"/>
<path d="M841.2 1387.3L841.2 1427.9" fill="none" stroke-width="0.45"/>
<path d="M849.9 1387.3L862.2 1387.3L864.2 1389.3L864.2 1399.3L849.9 1399.3Z" fill="url(#h1)" stroke-width="0.8"/>
<rect x="864.2" y="1401.1" width="6.0" height="5.6" fill="#fff" stroke-width="0.6"/>
<rect x="870.2" y="1402.7" width="4.0" height="4.0" fill="#fff" stroke-width="0.6"/>
<rect x="851.9" y="1404.5" width="22.3" height="5.4" fill="#fff" stroke-width="0.55"/>
<path d="M855.9 1409.9L874.2 1409.9L874.2 1415.7L868.2 1415.7L868.2 1418.7L855.9 1418.7Z" fill="url(#h2)" stroke-width="0.6"/>
<rect x="874.2" y="1403.9" width="7.4" height="6.8" fill="#fff" stroke-width="0.6"/>
<path d="M881.6 1405.4L885.9 1404.1L887.4 1404.1L887.4 1410.5L885.9 1410.5L881.6 1409.2Z" fill="#fff" stroke-width="0.55"/>
<path d="M887.4 1405.4L891.7 1404.1L893.1 1404.1L893.1 1410.5L891.7 1410.5L887.4 1409.2Z" fill="#fff" stroke-width="0.55"/>
<path d="M893.1 1405.4L897.5 1404.1L898.9 1404.1L898.9 1410.5L897.5 1410.5L893.1 1409.2Z" fill="#fff" stroke-width="0.55"/>
<path d="M874.2 1407.3L898.9 1407.3" fill="none" stroke-width="0.35" stroke-dasharray="4 1.2 1 1.2"/>
<rect x="837.0" y="1427.9" width="12.9" height="17.1" fill="#fff" stroke-width="0.8"/>
<path d="M837.0 1432.0L849.9 1432.0" fill="none" stroke-width="0.45"/>
<path d="M849.9 1413.0L854.9 1413.0L854.9 1419.0L864.2 1419.0L864.2 1428.0L860.9 1431.0L860.9 1445.0L849.9 1445.0Z" fill="url(#h1)" stroke-width="0.8"/>
<path d="M837.0 1445.0L849.9 1445.0L849.9 1455.0L834.0 1455.0L834.0 1451.0L838.9 1449.0Z" fill="#fff" stroke-width="0.6"/>
<path d="M849.9 1445.0L860.9 1445.0L865.0 1450.0L865.0 1455.0L849.9 1455.0Z" fill="url(#h3)" stroke-width="0.5"/>
<path d="M834.0 1455.0L834.0 1464.5" fill="none" stroke-width="0.45"/>
<path d="M865.0 1455.0L865.0 1464.5" fill="none" stroke-width="0.45"/>
<path d="M834.0 1463.5L865.0 1463.5" fill="none" stroke-width="0.5"/>
<text x="849.4" y="1461.6" font-size="7.8" text-anchor="middle" fill="#484848" stroke="none">φA</text>
<path d="M864.2 1427.9L923.0 1427.9" fill="none" stroke-width="0.45"/>
<path d="M865.0 1450.0L932.5 1450.0" fill="none" stroke-width="0.45"/>
<path d="M860.3 1278.9L932.5 1278.9" fill="none" stroke-width="0.45"/>
<path d="M921.5 1427.9L921.5 1450.0" fill="none" stroke-width="0.45"/>
<path d="M930.8 1278.9L930.8 1450.0" fill="none" stroke-width="0.45"/>
<path d="M920.3 1427.9L922.7 1427.9" fill="none" stroke-width="0.9"/>
<path d="M920.3 1450.0L922.7 1450.0" fill="none" stroke-width="0.9"/>
<path d="M929.6 1278.9L932.0 1278.9" fill="none" stroke-width="0.9"/>
<path d="M929.6 1450.0L932.0 1450.0" fill="none" stroke-width="0.9"/>
<text x="919.4" y="1440.0" font-size="7.8" text-anchor="middle" fill="#484848" stroke="none" transform="rotate(-90 919.4 1440.0)">C</text>
<text x="928.7" y="1364.5" font-size="7.8" text-anchor="middle" fill="#484848" stroke="none" transform="rotate(-90 928.7 1364.5)">B</text>
<rect x="233.7" y="1661.3" width="14.7" height="78.6" fill="#fff" stroke-width="0.6"/>
<path d="M233.7 1663.5H248.4M233.7 1665.7H248.4M233.7 1667.9H248.4M233.7 1670.1H248.4M233.7 1672.3H248.4M233.7 1674.5H248.4M233.7 1676.7H248.4M233.7 1678.9H248.4M233.7 1681.1H248.4M233.7 1683.3H248.4M233.7 1685.5H248.4M233.7 1687.7H248.4M233.7 1689.9H248.4M233.7 1692.1H248.4M233.7 1694.3H248.4M233.7 1696.5H248.4M233.7 1698.7H248.4M233.7 1700.9H248.4M233.7 1703.1H248.4M233.7 1705.3H248.4M233.7 1707.5H248.4M233.7 1709.7H248.4M233.7 1711.9H248.4M233.7 1714.1H248.4M233.7 1716.3H248.4M233.7 1718.5H248.4M233.7 1720.7H248.4M233.7 1722.9H248.4M233.7 1725.1H248.4M233.7 1727.3H248.4M233.7 1729.5H248.4M233.7 1731.7H248.4M233.7 1733.9H248.4M233.7 1736.1H248.4M233.7 1738.3H248.4" fill="none" stroke-width="0.9"/>
<rect x="248.4" y="1581.9" width="6.2" height="158.0" fill="url(#h3)" stroke-width="0.5"/>
<rect x="248.4" y="1620.3" width="5.2" height="104.2" fill="#fff" stroke-width="0.5"/>
<rect x="255.1" y="1592.5" width="8.7" height="147.4" fill="url(#h2)" stroke-width="0.5"/>
<rect x="263.8" y="1592.9" width="5.0" height="47.1" rx="1" fill="url(#h1)" stroke-width="0.6"/>
<rect x="229.4" y="1593.0" width="19.0" height="47.0" fill="#fff" stroke-width="0.8"/>
<path d="M239.8 1593.0L239.8 1640.0" fill="none" stroke-width="0.4"/>
<rect x="232.6" y="1581.9" width="15.8" height="10.6" fill="#fff" stroke-width="0.8"/>
<rect x="248.4" y="1581.9" width="15.4" height="10.6" fill="url(#h1)" stroke-width="0.8"/>
<path d="M248.4 1610.9H221.2Q219.0 1610.9 219.0 1613.1V1619.7Q219.0 1621.9 221.2 1621.9H248.4Z" fill="#fff" stroke-width="0.8"/>
<path d="M233.1 1610.9L233.1 1621.9" fill="none" stroke-width="0.5"/>
<path d="M233.1 1611.3Q240.8 1613.1 248.4 1612.1M233.1 1621.5Q240.8 1619.7 248.4 1620.7" fill="none" stroke-width="0.45"/>
<path d="M268.8 1610.9H274.3Q276.5 1610.9 276.5 1613.1V1619.7Q276.5 1621.9 274.3 1621.9H268.8Z" fill="#fff" stroke-width="0.8"/>
<path d="M248.4 1621.9H221.2Q219.0 1621.9 219.0 1624.1V1630.2Q219.0 1632.4 221.2 1632.4H248.4Z" fill="#fff" stroke-width="0.8"/>
<path d="M233.1 1621.9L233.1 1632.4" fill="none" stroke-width="0.5"/>
<path d="M233.1 1622.3Q240.8 1624.1 248.4 1623.1M233.1 1632.0Q240.8 1630.2 248.4 1631.2" fill="none" stroke-width="0.45"/>
<path d="M268.8 1621.9H274.3Q276.5 1621.9 276.5 1624.1V1630.2Q276.5 1632.4 274.3 1632.4H268.8Z" fill="#fff" stroke-width="0.8"/>
<path d="M248.4 1645.5H223.9Q221.7 1645.5 221.7 1647.7V1658.7Q221.7 1660.9 223.9 1660.9H248.4Z" fill="#fff" stroke-width="0.8"/>
<path d="M234.5 1645.5L234.5 1660.9" fill="none" stroke-width="0.5"/>
<path d="M234.5 1645.9Q241.5 1647.7 248.4 1646.7M234.5 1660.5Q241.5 1658.7 248.4 1659.7" fill="none" stroke-width="0.45"/>
<path d="M263.8 1645.5H272.3Q274.3 1645.5 274.3 1647.5V1658.9Q274.3 1660.9 272.3 1660.9H263.8Z" fill="url(#h1)" stroke-width="0.8"/>
<path d="M248.4 1579.9L248.4 1741.9" fill="none" stroke-width="0.35" stroke-dasharray="6 1.5 1 1.5"/>
<rect x="232.6" y="1739.9" width="15.8" height="16.4" fill="#fff" stroke-width="0.8"/>
<path d="M226.1 1760.0L229.4 1756.3L248.4 1756.3L248.4 1801.3L226.1 1801.3Z" fill="#fff" stroke-width="0.8"/>
<path d="M237.5 1756.3L237.5 1801.3" fill="none" stroke-width="0.45"/>
<path d="M248.4 1739.9L263.8 1739.9L263.8 1755.0L269.5 1759.0L269.5 1768.4L248.4 1768.4Z" fill="url(#h1)" stroke-width="0.8"/>
<rect x="269.5" y="1764.8" width="5.9" height="5.0" fill="#fff" stroke-width="0.6"/>
<rect x="275.4" y="1766.3" width="4.0" height="3.5" fill="#fff" stroke-width="0.6"/>
<rect x="250.4" y="1769.4" width="31.0" height="6.0" fill="#fff" stroke-width="0.55"/>
<path d="M273.4 1775.4L298.4 1775.4L298.4 1778.8L278.4 1781.5L273.4 1781.5Z" fill="url(#h3)" stroke-width="0.5"/>
<rect x="281.4" y="1768.6" width="5.4" height="7.2" fill="#fff" stroke-width="0.6"/>
<path d="M286.8 1770.2L289.9 1768.8L291.0 1768.8L291.0 1775.6L289.9 1775.6L286.8 1774.2Z" fill="#fff" stroke-width="0.55"/>
<path d="M291.0 1770.2L294.1 1768.8L295.2 1768.8L295.2 1775.6L294.1 1775.6L291.0 1774.2Z" fill="#fff" stroke-width="0.55"/>
<path d="M295.2 1770.2L298.4 1768.8L299.4 1768.8L299.4 1775.6L298.4 1775.6L295.2 1774.2Z" fill="#fff" stroke-width="0.55"/>
<path d="M281.4 1772.2L299.4 1772.2" fill="none" stroke-width="0.35" stroke-dasharray="4 1.2 1 1.2"/>
<path d="M254.6 1777.3L269.5 1777.3L269.5 1801.3L254.6 1801.3Z" fill="url(#h1)" stroke-width="0.8"/>
<rect x="223.9" y="1801.3" width="24.5" height="2.2" fill="#fff" stroke-width="0.6"/>
<path d="M254.6 1801.3L271.4 1801.3L271.4 1804.5L254.6 1804.5Z" fill="url(#h3)" stroke-width="0.5"/>
<rect x="240.1" y="1803.5" width="8.3" height="10.9" fill="#fff" stroke-width="0.6"/>
<rect x="248.4" y="1777.0" width="3.5" height="37.4" fill="url(#h3)" stroke-width="0.5"/>
<rect x="233.7" y="1814.4" width="14.7" height="6.2" rx="1" fill="#fff" stroke-width="0.8"/>
<rect x="248.4" y="1814.4" width="13.9" height="6.2" fill="url(#h1)" stroke-width="0.6"/>
<path d="M263.8 1581.9L331.3 1581.9" fill="none" stroke-width="0.45"/>
<path d="M269.0 1592.5L331.3 1592.5" fill="none" stroke-width="0.45"/>
<path d="M274.3 1645.1L331.3 1645.1" fill="none" stroke-width="0.45"/>
<path d="M274.3 1661.3L331.3 1661.3" fill="none" stroke-width="0.45"/>
<path d="M263.8 1740.3L331.3 1740.3" fill="none" stroke-width="0.45"/>
<path d="M271.5 1803.5L331.3 1803.5" fill="none" stroke-width="0.45"/>
<path d="M262.3 1821.0L331.3 1821.0" fill="none" stroke-width="0.45"/>
<path d="M328.6 1581.9L331.0 1581.9" fill="none" stroke-width="0.9"/>
<path d="M328.6 1592.5L331.0 1592.5" fill="none" stroke-width="0.9"/>
<path d="M328.6 1645.1L331.0 1645.1" fill="none" stroke-width="0.9"/>
<path d="M328.6 1661.3L331.0 1661.3" fill="none" stroke-width="0.9"/>
<path d="M328.6 1740.3L331.0 1740.3" fill="none" stroke-width="0.9"/>
<path d="M328.6 1803.5L331.0 1803.5" fill="none" stroke-width="0.9"/>
<path d="M328.6 1821.0L331.0 1821.0" fill="none" stroke-width="0.9"/>
<text x="327.4" y="1588.1" font-size="8" text-anchor="middle" fill="#484848" stroke="none" transform="rotate(-90 327.4 1588.1)">4</text>
<text x="327.4" y="1619.5" font-size="8" text-anchor="middle" fill="#484848" stroke="none" transform="rotate(-90 327.4 1619.5)">20</text>
<text x="327.4" y="1654.2" font-size="8" text-anchor="middle" fill="#484848" stroke="none" transform="rotate(-90 327.4 1654.2)">6</text>
<text x="327.4" y="1772.2" font-size="8" text-anchor="middle" fill="#484848" stroke="none" transform="rotate(-90 327.4 1772.2)">24</text>
<text x="327.4" y="1812.7" font-size="8" text-anchor="middle" fill="#484848" stroke="none" transform="rotate(-90 327.4 1812.7)">6.5</text>
<path d="M329.8 1581.9L329.8 1661.3" fill="none" stroke-width="0.45"/>
<path d="M329.8 1740.3L329.8 1821.0" fill="none" stroke-width="0.45"/>
<rect x="302.5" y="1766.5" width="9.0" height="11.3" fill="none" stroke-width="0.5"/>
<text x="309.6" y="1772.2" font-size="5.8" text-anchor="middle" fill="#484848" stroke="none" transform="rotate(-90 309.6 1772.2)">φ5</text>
<text x="194.1" y="1590.3" font-size="6.77887" text-anchor="start" fill="#484848" stroke="none">M14x1.0</text>
<path d="M193.6 1592.2L220.6 1592.2" fill="none" stroke-width="0.5"/>
<path d="M220.6 1592.2L229.4 1606.0" fill="none" stroke-width="0.5"/>
<text x="206.4" y="1761.1" font-size="6.5959" text-anchor="start" fill="#484848" stroke="none">14H</text>
<path d="M205.9 1762.9L219.0 1762.9" fill="none" stroke-width="0.5"/>
<path d="M219.0 1762.9L231.5 1778.3" fill="none" stroke-width="0.5"/>
<text x="281.4" y="1788.7" font-size="7.04419" text-anchor="start" fill="#484848" stroke="none">M6x1.0</text>
<path d="M280.9 1790.7L305.0 1790.7" fill="none" stroke-width="0.5"/>
<path d="M280.9 1790.7L260.0 1802.4" fill="none" stroke-width="0.5"/>
<rect x="362.9" y="1637.3" width="14.7" height="78.6" fill="#fff" stroke-width="0.6"/>
<path d="M362.9 1639.5H377.6M362.9 1641.7H377.6M362.9 1643.9H377.6M362.9 1646.1H377.6M362.9 1648.3H377.6M362.9 1650.5H377.6M362.9 1652.7H377.6M362.9 1654.9H377.6M362.9 1657.1H377.6M362.9 1659.3H377.6M362.9 1661.5H377.6M362.9 1663.7H377.6M362.9 1665.9H377.6M362.9 1668.1H377.6M362.9 1670.3H377.6M362.9 1672.5H377.6M362.9 1674.7H377.6M362.9 1676.9H377.6M362.9 1679.1H377.6M362.9 1681.3H377.6M362.9 1683.5H377.6M362.9 1685.7H377.6M362.9 1687.9H377.6M362.9 1690.1H377.6M362.9 1692.3H377.6M362.9 1694.5H377.6M362.9 1696.7H377.6M362.9 1698.9H377.6M362.9 1701.1H377.6M362.9 1703.3H377.6M362.9 1705.5H377.6M362.9 1707.7H377.6M362.9 1709.9H377.6M362.9 1712.1H377.6M362.9 1714.3H377.6" fill="none" stroke-width="0.9"/>
<rect x="377.6" y="1557.9" width="6.2" height="158.0" fill="url(#h3)" stroke-width="0.5"/>
<rect x="377.6" y="1596.3" width="5.2" height="104.2" fill="#fff" stroke-width="0.5"/>
<rect x="384.3" y="1568.5" width="8.7" height="147.4" fill="url(#h2)" stroke-width="0.5"/>
<rect x="393.0" y="1568.9" width="5.0" height="47.1" rx="1" fill="url(#h1)" stroke-width="0.6"/>
<rect x="358.6" y="1569.0" width="19.0" height="47.0" fill="#fff" stroke-width="0.8"/>
<path d="M369.1 1569.0L369.1 1616.0" fill="none" stroke-width="0.4"/>
<rect x="361.8" y="1557.9" width="15.8" height="10.6" fill="#fff" stroke-width="0.8"/>
<rect x="377.6" y="1557.9" width="15.4" height="10.6" fill="url(#h1)" stroke-width="0.8"/>
<path d="M377.6 1586.9H350.4Q348.2 1586.9 348.2 1589.1V1595.7Q348.2 1597.9 350.4 1597.9H377.6Z" fill="#fff" stroke-width="0.8"/>
<path d="M362.3 1586.9L362.3 1597.9" fill="none" stroke-width="0.5"/>
<path d="M362.3 1587.3Q370.0 1589.1 377.6 1588.1M362.3 1597.5Q370.0 1595.7 377.6 1596.7" fill="none" stroke-width="0.45"/>
<path d="M398.0 1586.9H403.5Q405.7 1586.9 405.7 1589.1V1595.7Q405.7 1597.9 403.5 1597.9H398.0Z" fill="#fff" stroke-width="0.8"/>
<path d="M377.6 1597.9H350.4Q348.2 1597.9 348.2 1600.1V1606.2Q348.2 1608.4 350.4 1608.4H377.6Z" fill="#fff" stroke-width="0.8"/>
<path d="M362.3 1597.9L362.3 1608.4" fill="none" stroke-width="0.5"/>
<path d="M362.3 1598.3Q370.0 1600.1 377.6 1599.1M362.3 1608.0Q370.0 1606.2 377.6 1607.2" fill="none" stroke-width="0.45"/>
<path d="M398.0 1597.9H403.5Q405.7 1597.9 405.7 1600.1V1606.2Q405.7 1608.4 403.5 1608.4H398.0Z" fill="#fff" stroke-width="0.8"/>
<path d="M377.6 1621.5H353.1Q350.9 1621.5 350.9 1623.7V1634.7Q350.9 1636.9 353.1 1636.9H377.6Z" fill="#fff" stroke-width="0.8"/>
<path d="M363.7 1621.5L363.7 1636.9" fill="none" stroke-width="0.5"/>
<path d="M363.7 1621.9Q370.7 1623.7 377.6 1622.7M363.7 1636.5Q370.7 1634.7 377.6 1635.7" fill="none" stroke-width="0.45"/>
<path d="M393.0 1621.5H401.5Q403.5 1621.5 403.5 1623.5V1634.9Q403.5 1636.9 401.5 1636.9H393.0Z" fill="url(#h1)" stroke-width="0.8"/>
<path d="M377.6 1555.9L377.6 1717.9" fill="none" stroke-width="0.35" stroke-dasharray="6 1.5 1 1.5"/>
<rect x="361.8" y="1715.9" width="15.8" height="16.4" fill="#fff" stroke-width="0.8"/>
<path d="M355.3 1736.0L358.6 1732.3L377.6 1732.3L377.6 1777.3L355.3 1777.3Z" fill="#fff" stroke-width="0.8"/>
<path d="M366.7 1732.3L366.7 1777.3" fill="none" stroke-width="0.45"/>
<path d="M377.6 1715.9L393.0 1715.9L393.0 1731.0L398.7 1735.0L398.7 1744.4L377.6 1744.4Z" fill="url(#h1)" stroke-width="0.8"/>
<rect x="398.7" y="1740.8" width="5.9" height="5.0" fill="#fff" stroke-width="0.6"/>
<rect x="404.6" y="1742.3" width="4.0" height="3.5" fill="#fff" stroke-width="0.6"/>
<rect x="379.6" y="1745.4" width="31.0" height="6.0" fill="#fff" stroke-width="0.55"/>
<path d="M402.6 1751.4L427.6 1751.4L427.6 1754.8L407.6 1757.5L402.6 1757.5Z" fill="url(#h3)" stroke-width="0.5"/>
<rect x="410.6" y="1744.6" width="6.6" height="7.2" fill="#fff" stroke-width="0.6"/>
<path d="M417.2 1746.2L421.1 1744.8L422.3 1744.8L422.3 1751.6L421.1 1751.6L417.2 1750.2Z" fill="#fff" stroke-width="0.55"/>
<path d="M422.3 1746.2L426.2 1744.8L427.5 1744.8L427.5 1751.6L426.2 1751.6L422.3 1750.2Z" fill="#fff" stroke-width="0.55"/>
<path d="M427.5 1746.2L431.3 1744.8L432.6 1744.8L432.6 1751.6L431.3 1751.6L427.5 1750.2Z" fill="#fff" stroke-width="0.55"/>
<path d="M410.6 1748.2L432.6 1748.2" fill="none" stroke-width="0.35" stroke-dasharray="4 1.2 1 1.2"/>
<path d="M383.8 1753.3L398.7 1753.3L398.7 1777.3L383.8 1777.3Z" fill="url(#h1)" stroke-width="0.8"/>
<path d="M353.8 1778.7L377.6 1778.7L377.6 1808.3L352.3 1808.3L352.3 1800.0L359.6 1797.0L359.6 1790.0L353.8 1788.0Z" fill="#fff" stroke-width="0.8"/>
<path d="M353.8 1783.0L377.6 1783.0" fill="none" stroke-width="0.45"/>
<path d="M352.3 1803.5L377.6 1803.5" fill="none" stroke-width="0.45"/>
<path d="M377.6 1778.0L403.9 1778.7L403.9 1788.0L397.6 1790.0L397.6 1797.0L406.3 1800.0L406.3 1808.3L399.6 1808.3L391.6 1799.0L391.6 1790.0L383.8 1786.0L377.6 1786.0Z" fill="url(#h2)" stroke-width="0.6"/>
<path d="M352.3 1808.3L352.3 1820.4" fill="none" stroke-width="0.45"/>
<path d="M406.3 1808.3L406.3 1820.4" fill="none" stroke-width="0.45"/>
<path d="M352.3 1819.2L406.3 1819.2" fill="none" stroke-width="0.5"/>
<text x="378.6" y="1817.4" font-size="8" text-anchor="middle" fill="#484848" stroke="none">φA</text>
<path d="M403.9 1778.7L461.5 1778.7" fill="none" stroke-width="0.45"/>
<path d="M406.3 1805.0L473.5 1805.0" fill="none" stroke-width="0.45"/>
<path d="M393.0 1558.1L473.5 1558.1" fill="none" stroke-width="0.45"/>
<path d="M459.7 1778.7L459.7 1805.0" fill="none" stroke-width="0.45"/>
<path d="M471.7 1558.1L471.7 1805.0" fill="none" stroke-width="0.45"/>
<path d="M458.5 1778.7L460.9 1778.7" fill="none" stroke-width="0.9"/>
<path d="M458.5 1805.0L460.9 1805.0" fill="none" stroke-width="0.9"/>
<path d="M470.5 1558.1L472.9 1558.1" fill="none" stroke-width="0.9"/>
<path d="M470.5 1805.0L472.9 1805.0" fill="none" stroke-width="0.9"/>
<text x="457.5" y="1792.0" font-size="8" text-anchor="middle" fill="#484848" stroke="none" transform="rotate(-90 457.5 1792.0)">C</text>
<text x="469.3" y="1683.5" font-size="8" text-anchor="middle" fill="#484848" stroke="none" transform="rotate(-90 469.3 1683.5)">B</text>
<rect x="625.3" y="1681.0" width="16.2" height="72.5" fill="#fff" stroke-width="0.6"/>
<path d="M625.3 1683.2H641.5M625.3 1685.4H641.5M625.3 1687.6H641.5M625.3 1689.8H641.5M625.3 1692.0H641.5M625.3 1694.2H641.5M625.3 1696.4H641.5M625.3 1698.6H641.5M625.3 1700.8H641.5M625.3 1703.0H641.5M625.3 1705.2H641.5M625.3 1707.4H641.5M625.3 1709.6H641.5M625.3 1711.8H641.5M625.3 1714.0H641.5M625.3 1716.2H641.5M625.3 1718.4H641.5M625.3 1720.6H641.5M625.3 1722.8H641.5M625.3 1725.0H641.5M625.3 1727.2H641.5M625.3 1729.4H641.5M625.3 1731.6H641.5M625.3 1733.8H641.5M625.3 1736.0H641.5M625.3 1738.2H641.5M625.3 1740.4H641.5M625.3 1742.6H641.5M625.3 1744.8H641.5M625.3 1747.0H641.5M625.3 1749.2H641.5M625.3 1751.4H641.5" fill="none" stroke-width="0.9"/>
<rect x="641.5" y="1595.1" width="8.2" height="158.4" fill="url(#h3)" stroke-width="0.5"/>
<rect x="641.5" y="1625.7" width="7.2" height="113.8" fill="#fff" stroke-width="0.5"/>
<rect x="650.2" y="1608.3" width="7.6" height="145.2" fill="url(#h2)" stroke-width="0.5"/>
<rect x="657.8" y="1608.7" width="2.3" height="56.5" rx="1" fill="url(#h1)" stroke-width="0.6"/>
<rect x="623.7" y="1608.8" width="17.8" height="56.4" fill="#fff" stroke-width="0.8"/>
<path d="M633.5 1608.8L633.5 1665.2" fill="none" stroke-width="0.4"/>
<rect x="623.7" y="1595.1" width="17.8" height="13.2" fill="#fff" stroke-width="0.8"/>
<rect x="641.5" y="1595.1" width="18.6" height="13.2" fill="url(#h1)" stroke-width="0.8"/>
<path d="M641.5 1628.5H616.6Q614.4 1628.5 614.4 1630.7V1638.6Q614.4 1640.8 616.6 1640.8H641.5Z" fill="#fff" stroke-width="0.8"/>
<path d="M627.4 1628.5L627.4 1640.8" fill="none" stroke-width="0.5"/>
<path d="M627.4 1628.9Q634.5 1630.7 641.5 1629.7M627.4 1640.4Q634.5 1638.6 641.5 1639.6" fill="none" stroke-width="0.45"/>
<path d="M660.1 1628.5H667.2Q669.4 1628.5 669.4 1630.7V1638.6Q669.4 1640.8 667.2 1640.8H660.1Z" fill="#fff" stroke-width="0.8"/>
<path d="M641.5 1640.8H616.6Q614.4 1640.8 614.4 1643.0V1650.9Q614.4 1653.1 616.6 1653.1H641.5Z" fill="#fff" stroke-width="0.8"/>
<path d="M627.4 1640.8L627.4 1653.1" fill="none" stroke-width="0.5"/>
<path d="M627.4 1641.2Q634.5 1643.0 641.5 1642.0M627.4 1652.7Q634.5 1650.9 641.5 1651.9" fill="none" stroke-width="0.45"/>
<path d="M660.1 1640.8H667.2Q669.4 1640.8 669.4 1643.0V1650.9Q669.4 1653.1 667.2 1653.1H660.1Z" fill="#fff" stroke-width="0.8"/>
<path d="M641.5 1668.7H616.6Q614.4 1668.7 614.4 1670.9V1678.8Q614.4 1681.0 616.6 1681.0H641.5Z" fill="#fff" stroke-width="0.8"/>
<path d="M627.4 1668.7L627.4 1681.0" fill="none" stroke-width="0.5"/>
<path d="M627.4 1669.1Q634.5 1670.9 641.5 1669.9M627.4 1680.6Q634.5 1678.8 641.5 1679.8" fill="none" stroke-width="0.45"/>
<path d="M657.8 1668.7H667.4Q669.4 1668.7 669.4 1670.7V1679.0Q669.4 1681.0 667.4 1681.0H657.8Z" fill="url(#h1)" stroke-width="0.8"/>
<path d="M641.5 1593.1L641.5 1755.5" fill="none" stroke-width="0.35" stroke-dasharray="6 1.5 1 1.5"/>
<path d="M616.0 1758.0L619.0 1754.6L641.5 1754.6L641.5 1802.2L616.0 1802.2Z" fill="#fff" stroke-width="0.8"/>
<path d="M629.2 1754.6L629.2 1802.2" fill="none" stroke-width="0.45"/>
<rect x="608.3" y="1802.2" width="33.2" height="4.2" fill="#fff" stroke-width="0.6"/>
<path d="M641.5 1753.5L664.5 1753.5L667.1 1756.0L667.1 1766.2L641.5 1766.2Z" fill="url(#h1)" stroke-width="0.8"/>
<rect x="641.5" y="1766.2" width="25.6" height="16.3" fill="#fff" stroke-width="0.6"/>
<rect x="664.9" y="1766.2" width="2.2" height="16.3" fill="url(#h1)" stroke-width="0.4"/>
<path d="M638.5 1774.4L666.5 1774.4" fill="none" stroke-width="0.35" stroke-dasharray="4 1.2 1 1.2"/>
<path d="M641.5 1776.0L649.7 1782.5L667.1 1782.5L667.1 1804.6L649.7 1804.6L649.7 1790.0L641.5 1786.0Z" fill="url(#h1)" stroke-width="0.8"/>
<rect x="657.8" y="1802.2" width="17.0" height="4.2" fill="url(#h3)" stroke-width="0.5"/>
<rect x="641.5" y="1790.0" width="8.2" height="28.5" fill="url(#h2)" stroke-width="0.5"/>
<rect x="629.2" y="1811.5" width="12.3" height="7.0" fill="#fff" stroke-width="0.6"/>
<rect x="632.5" y="1806.4" width="9.0" height="5.1" fill="#fff" stroke-width="0.5"/>
<rect x="623.7" y="1818.5" width="17.8" height="6.5" rx="1" fill="#fff" stroke-width="0.8"/>
<path d="M641.5 1818.5L660.1 1818.5L660.1 1825.0L641.5 1825.0Z" fill="url(#h1)" stroke-width="0.6"/>
<path d="M660.1 1595.1L720.1 1595.1" fill="none" stroke-width="0.45"/>
<path d="M660.1 1608.3L720.1 1608.3" fill="none" stroke-width="0.45"/>
<path d="M669.4 1668.7L720.1 1668.7" fill="none" stroke-width="0.45"/>
<path d="M669.4 1681.5L720.1 1681.5" fill="none" stroke-width="0.45"/>
<path d="M667.1 1753.9L720.1 1753.9" fill="none" stroke-width="0.45"/>
<path d="M674.8 1806.4L720.1 1806.4" fill="none" stroke-width="0.45"/>
<path d="M660.1 1825.5L720.1 1825.5" fill="none" stroke-width="0.45"/>
<path d="M717.4 1595.1L719.8 1595.1" fill="none" stroke-width="0.9"/>
<path d="M717.4 1608.3L719.8 1608.3" fill="none" stroke-width="0.9"/>
<path d="M717.4 1668.7L719.8 1668.7" fill="none" stroke-width="0.9"/>
<path d="M717.4 1681.5L719.8 1681.5" fill="none" stroke-width="0.9"/>
<path d="M717.4 1753.9L719.8 1753.9" fill="none" stroke-width="0.9"/>
<path d="M717.4 1806.4L719.8 1806.4" fill="none" stroke-width="0.9"/>
<path d="M717.4 1825.5L719.8 1825.5" fill="none" stroke-width="0.9"/>
<text x="716.2" y="1601.7" font-size="8.3" text-anchor="middle" fill="#484848" stroke="none" transform="rotate(-90 716.2 1601.7)">6</text>
<text x="716.2" y="1638.7" font-size="8.3" text-anchor="middle" fill="#484848" stroke="none" transform="rotate(-90 716.2 1638.7)">29</text>
<text x="716.2" y="1675.2" font-size="8.3" text-anchor="middle" fill="#484848" stroke="none" transform="rotate(-90 716.2 1675.2)">6</text>
<text x="716.2" y="1780.7" font-size="8.3" text-anchor="middle" fill="#484848" stroke="none" transform="rotate(-90 716.2 1780.7)">25</text>
<text x="716.2" y="1816.5" font-size="8.3" text-anchor="middle" fill="#484848" stroke="none" transform="rotate(-90 716.2 1816.5)">9</text>
<path d="M718.6 1595.1L718.6 1681.5" fill="none" stroke-width="0.45"/>
<path d="M718.6 1753.9L718.6 1825.5" fill="none" stroke-width="0.45"/>
<text x="591.6" y="1609.8" font-size="7.14388" text-anchor="start" fill="#484848" stroke="none">M18x1.0</text>
<path d="M591.1 1611.8L619.5 1611.8" fill="none" stroke-width="0.5"/>
<path d="M619.5 1611.8L623.7 1622.3" fill="none" stroke-width="0.5"/>
<text x="593.3" y="1756.7" font-size="6.65041" text-anchor="start" fill="#484848" stroke="none">21H</text>
<path d="M592.8 1758.6L606.0 1758.6" fill="none" stroke-width="0.5"/>
<path d="M606.0 1758.6L623.0 1774.4" fill="none" stroke-width="0.5"/>
<text x="677.5" y="1760.3" font-size="7.02347" text-anchor="start" fill="#484848" stroke="none">Rc(PT)1/8</text>
<path d="M677.0 1762.3L710.0 1762.3" fill="none" stroke-width="0.5"/>
<path d="M677.0 1762.3L666.4 1774.4" fill="none" stroke-width="0.5"/>
<text x="676.5" y="1784.1" font-size="6.80494" text-anchor="start" fill="#484848" stroke="none">M10x1.5</text>
<path d="M676.0 1786.0L703.1 1786.0" fill="none" stroke-width="0.5"/>
<path d="M676.0 1786.0L652.0 1801.0" fill="none" stroke-width="0.5"/>
<rect x="801.4" y="1646.4" width="16.2" height="72.5" fill="#fff" stroke-width="0.6"/>
<path d="M801.4 1648.6H817.6M801.4 1650.8H817.6M801.4 1653.0H817.6M801.4 1655.2H817.6M801.4 1657.4H817.6M801.4 1659.6H817.6M801.4 1661.8H817.6M801.4 1664.0H817.6M801.4 1666.2H817.6M801.4 1668.4H817.6M801.4 1670.6H817.6M801.4 1672.8H817.6M801.4 1675.0H817.6M801.4 1677.2H817.6M801.4 1679.4H817.6M801.4 1681.6H817.6M801.4 1683.8H817.6M801.4 1686.0H817.6M801.4 1688.2H817.6M801.4 1690.4H817.6M801.4 1692.6H817.6M801.4 1694.8H817.6M801.4 1697.0H817.6M801.4 1699.2H817.6M801.4 1701.4H817.6M801.4 1703.6H817.6M801.4 1705.8H817.6M801.4 1708.0H817.6M801.4 1710.2H817.6M801.4 1712.4H817.6M801.4 1714.6H817.6M801.4 1716.8H817.6" fill="none" stroke-width="0.9"/>
<rect x="817.6" y="1560.5" width="8.2" height="158.4" fill="url(#h3)" stroke-width="0.5"/>
<rect x="817.6" y="1591.1" width="7.2" height="113.8" fill="#fff" stroke-width="0.5"/>
<rect x="826.3" y="1573.7" width="7.6" height="145.2" fill="url(#h2)" stroke-width="0.5"/>
<rect x="833.9" y="1574.1" width="2.3" height="56.5" rx="1" fill="url(#h1)" stroke-width="0.6"/>
<rect x="799.8" y="1574.2" width="17.8" height="56.4" fill="#fff" stroke-width="0.8"/>
<path d="M809.6 1574.2L809.6 1630.6" fill="none" stroke-width="0.4"/>
<rect x="799.8" y="1560.5" width="17.8" height="13.2" fill="#fff" stroke-width="0.8"/>
<rect x="817.6" y="1560.5" width="18.6" height="13.2" fill="url(#h1)" stroke-width="0.8"/>
<path d="M817.6 1593.9H792.7Q790.5 1593.9 790.5 1596.1V1604.0Q790.5 1606.2 792.7 1606.2H817.6Z" fill="#fff" stroke-width="0.8"/>
<path d="M803.5 1593.9L803.5 1606.2" fill="none" stroke-width="0.5"/>
<path d="M803.5 1594.3Q810.6 1596.1 817.6 1595.1M803.5 1605.8Q810.6 1604.0 817.6 1605.0" fill="none" stroke-width="0.45"/>
<path d="M836.2 1593.9H843.3Q845.5 1593.9 845.5 1596.1V1604.0Q845.5 1606.2 843.3 1606.2H836.2Z" fill="#fff" stroke-width="0.8"/>
<path d="M817.6 1606.2H792.7Q790.5 1606.2 790.5 1608.4V1616.3Q790.5 1618.5 792.7 1618.5H817.6Z" fill="#fff" stroke-width="0.8"/>
<path d="M803.5 1606.2L803.5 1618.5" fill="none" stroke-width="0.5"/>
<path d="M803.5 1606.6Q810.6 1608.4 817.6 1607.4M803.5 1618.1Q810.6 1616.3 817.6 1617.3" fill="none" stroke-width="0.45"/>
<path d="M836.2 1606.2H843.3Q845.5 1606.2 845.5 1608.4V1616.3Q845.5 1618.5 843.3 1618.5H836.2Z" fill="#fff" stroke-width="0.8"/>
<path d="M817.6 1634.1H792.7Q790.5 1634.1 790.5 1636.3V1644.2Q790.5 1646.4 792.7 1646.4H817.6Z" fill="#fff" stroke-width="0.8"/>
<path d="M803.5 1634.1L803.5 1646.4" fill="none" stroke-width="0.5"/>
<path d="M803.5 1634.5Q810.6 1636.3 817.6 1635.3M803.5 1646.0Q810.6 1644.2 817.6 1645.2" fill="none" stroke-width="0.45"/>
<path d="M833.9 1634.1H843.5Q845.5 1634.1 845.5 1636.1V1644.4Q845.5 1646.4 843.5 1646.4H833.9Z" fill="url(#h1)" stroke-width="0.8"/>
<path d="M817.6 1558.5L817.6 1720.9" fill="none" stroke-width="0.35" stroke-dasharray="6 1.5 1 1.5"/>
<path d="M791.4 1722.7L794.6 1719.7L817.6 1719.7L817.6 1769.0L791.4 1769.0Z" fill="#fff" stroke-width="0.8"/>
<path d="M805.3 1719.7L805.3 1769.0" fill="none" stroke-width="0.45"/>
<path d="M817.6 1718.9L841.6 1718.9L844.3 1721.5L844.3 1731.6L817.6 1731.6Z" fill="url(#h1)" stroke-width="0.8"/>
<rect x="817.6" y="1731.6" width="26.7" height="15.4" fill="#fff" stroke-width="0.6"/>
<path d="M814.6 1739.5L843.6 1739.5" fill="none" stroke-width="0.35" stroke-dasharray="4 1.2 1 1.2"/>
<path d="M817.6 1742.0L825.8 1747.0L844.3 1747.0L844.3 1762.0L831.6 1770.0L817.6 1770.0Z" fill="url(#h1)" stroke-width="0.8"/>
<path d="M780.4 1769.0L817.6 1769.0L817.6 1814.3L753.7 1814.3L753.7 1809.2L780.4 1784.0Z" fill="#fff" stroke-width="0.8"/>
<path d="M780.4 1784.0L817.6 1784.0" fill="none" stroke-width="0.45"/>
<path d="M753.7 1809.2L817.6 1809.2" fill="none" stroke-width="0.45"/>
<path d="M785.6 1773.0L817.6 1773.0" fill="none" stroke-width="0.4"/>
<path d="M817.6 1770.0L831.6 1770.0L844.3 1762.0L854.6 1769.0L854.6 1784.0L882.0 1809.2L882.0 1814.3L876.6 1814.3L850.6 1789.0L841.6 1783.0L817.6 1783.0Z" fill="url(#h2)" stroke-width="0.6"/>
<rect x="841.6" y="1788.5" width="9.0" height="4.0" fill="#fff" stroke-width="0.5"/>
<rect x="844.6" y="1792.5" width="3.0" height="7.5" fill="#fff" stroke-width="0.5"/>
<path d="M753.7 1814.3L753.7 1831.0" fill="none" stroke-width="0.45"/>
<path d="M882.0 1814.3L882.0 1831.0" fill="none" stroke-width="0.45"/>
<path d="M753.7 1829.4L882.0 1829.4" fill="none" stroke-width="0.5"/>
<text x="817.6" y="1827.3" font-size="8.3" text-anchor="middle" fill="#484848" stroke="none">φA</text>
<path d="M854.6 1769.0L905.0 1769.0" fill="none" stroke-width="0.45"/>
<path d="M882.0 1809.2L919.0 1809.2" fill="none" stroke-width="0.45"/>
<path d="M836.2 1560.1L919.0 1560.1" fill="none" stroke-width="0.45"/>
<path d="M903.2 1769.0L903.2 1809.2" fill="none" stroke-width="0.45"/>
<path d="M917.3 1560.1L917.3 1809.2" fill="none" stroke-width="0.45"/>
<path d="M902.0 1769.0L904.4 1769.0" fill="none" stroke-width="0.9"/>
<path d="M902.0 1809.2L904.4 1809.2" fill="none" stroke-width="0.9"/>
<path d="M916.1 1560.1L918.5 1560.1" fill="none" stroke-width="0.9"/>
<path d="M916.1 1809.2L918.5 1809.2" fill="none" stroke-width="0.9"/>
<text x="901.4" y="1790.5" font-size="8.3" text-anchor="middle" fill="#484848" stroke="none" transform="rotate(-90 901.4 1790.5)">C</text>
<text x="914.6" y="1687.0" font-size="8.3" text-anchor="middle" fill="#484848" stroke="none" transform="rotate(-90 914.6 1687.0)">B</text>
<rect x="199.5" y="2057.0" width="16.5" height="97.4" fill="#fff" stroke-width="0.6"/>
<path d="M199.5 2059.2H216.0M199.5 2061.4H216.0M199.5 2063.6H216.0M199.5 2065.8H216.0M199.5 2068.0H216.0M199.5 2070.2H216.0M199.5 2072.4H216.0M199.5 2074.6H216.0M199.5 2076.8H216.0M199.5 2079.0H216.0M199.5 2081.2H216.0M199.5 2083.4H216.0M199.5 2085.6H216.0M199.5 2087.8H216.0M199.5 2090.0H216.0M199.5 2092.2H216.0M199.5 2094.4H216.0M199.5 2096.6H216.0M199.5 2098.8H216.0M199.5 2101.0H216.0M199.5 2103.2H216.0M199.5 2105.4H216.0M199.5 2107.6H216.0M199.5 2109.8H216.0M199.5 2112.0H216.0M199.5 2114.2H216.0M199.5 2116.4H216.0M199.5 2118.6H216.0M199.5 2120.8H216.0M199.5 2123.0H216.0M199.5 2125.2H216.0M199.5 2127.4H216.0M199.5 2129.6H216.0M199.5 2131.8H216.0M199.5 2134.0H216.0M199.5 2136.2H216.0M199.5 2138.4H216.0M199.5 2140.6H216.0M199.5 2142.8H216.0M199.5 2145.0H216.0M199.5 2147.2H216.0M199.5 2149.4H216.0M199.5 2151.6H216.0M199.5 2153.8H216.0" fill="none" stroke-width="0.9"/>
<rect x="216.0" y="1976.5" width="7.7" height="177.9" fill="url(#h3)" stroke-width="0.5"/>
<rect x="216.0" y="2014.0" width="6.7" height="140.4" fill="#fff" stroke-width="0.5"/>
<rect x="224.2" y="1987.8" width="10.3" height="166.6" fill="url(#h2)" stroke-width="0.5"/>
<rect x="234.5" y="1988.2" width="5.6" height="48.8" rx="1" fill="url(#h1)" stroke-width="0.6"/>
<rect x="195.3" y="1988.3" width="20.7" height="49.7" fill="#fff" stroke-width="0.8"/>
<path d="M206.7 1988.3L206.7 2038.0" fill="none" stroke-width="0.4"/>
<rect x="200.4" y="1976.5" width="15.6" height="11.3" fill="#fff" stroke-width="0.8"/>
<rect x="216.0" y="1976.5" width="18.5" height="11.3" fill="url(#h1)" stroke-width="0.8"/>
<path d="M216.0 1999.7H186.7Q184.5 1999.7 184.5 2001.9V2013.2Q184.5 2015.4 186.7 2015.4H216.0Z" fill="#fff" stroke-width="0.8"/>
<path d="M199.6 1999.7L199.6 2015.4" fill="none" stroke-width="0.5"/>
<path d="M199.6 2000.1Q207.8 2001.9 216.0 2000.9M199.6 2015.0Q207.8 2013.2 216.0 2014.2" fill="none" stroke-width="0.45"/>
<path d="M240.1 1999.7H246.4Q248.6 1999.7 248.6 2001.9V2013.2Q248.6 2015.4 246.4 2015.4H240.1Z" fill="#fff" stroke-width="0.8"/>
<path d="M216.0 2015.4H186.7Q184.5 2015.4 184.5 2017.6V2028.8Q184.5 2031.0 186.7 2031.0H216.0Z" fill="#fff" stroke-width="0.8"/>
<path d="M199.6 2015.4L199.6 2031.0" fill="none" stroke-width="0.5"/>
<path d="M199.6 2015.8Q207.8 2017.6 216.0 2016.6M199.6 2030.6Q207.8 2028.8 216.0 2029.8" fill="none" stroke-width="0.45"/>
<path d="M240.1 2015.4H246.4Q248.6 2015.4 248.6 2017.6V2028.8Q248.6 2031.0 246.4 2031.0H240.1Z" fill="#fff" stroke-width="0.8"/>
<path d="M216.0 2041.7H186.7Q184.5 2041.7 184.5 2043.9V2054.3Q184.5 2056.5 186.7 2056.5H216.0Z" fill="#fff" stroke-width="0.8"/>
<path d="M199.6 2041.7L199.6 2056.5" fill="none" stroke-width="0.5"/>
<path d="M199.6 2042.1Q207.8 2043.9 216.0 2042.9M199.6 2056.1Q207.8 2054.3 216.0 2055.3" fill="none" stroke-width="0.45"/>
<path d="M234.5 2041.7H246.6Q248.6 2041.7 248.6 2043.7V2054.5Q248.6 2056.5 246.6 2056.5H234.5Z" fill="url(#h1)" stroke-width="0.8"/>
<path d="M216.0 1974.5L216.0 2156.4" fill="none" stroke-width="0.35" stroke-dasharray="6 1.5 1 1.5"/>
<rect x="198.1" y="2154.4" width="17.9" height="24.2" fill="#fff" stroke-width="0.8"/>
<rect x="193.9" y="2178.6" width="22.1" height="7.1" fill="#fff" stroke-width="0.6"/>
<path d="M223.7 2154.4L235.0 2154.4L235.0 2178.6L239.3 2178.6L239.3 2185.7L216.0 2185.7L216.0 2181.5L226.5 2181.5L228.0 2158.0L223.7 2158.0Z" fill="url(#h1)" stroke-width="0.8"/>
<rect x="163.5" y="2185.7" width="52.5" height="44.5" fill="#fff" stroke-width="0.8"/>
<path d="M163.5 2188.6L216.0 2188.6" fill="none" stroke-width="0.45"/>
<path d="M163.5 2227.6L216.0 2227.6" fill="none" stroke-width="0.4"/>
<path d="M216.0 2185.7L267.0 2185.7L269.1 2187.8L269.1 2230.2L231.6 2230.2L231.6 2216.9L254.9 2216.9L254.9 2199.0L216.0 2199.0Z" fill="url(#h1)" stroke-width="0.8"/>
<rect x="254.9" y="2199.0" width="12.6" height="17.9" fill="#fff" stroke-width="0.5"/>
<rect x="239.3" y="2204.0" width="14.2" height="26.2" fill="#fff" stroke-width="0.55"/>
<path d="M241.0 2211.0L246.4 2204.5L251.8 2211.0" fill="none" stroke-width="0.5"/>
<path d="M241.0 2212.0H251.8M241.0 2213.8H251.8M241.0 2215.6H251.8M241.0 2217.4H251.8M241.0 2219.2H251.8M241.0 2221.0H251.8M241.0 2222.8H251.8M241.0 2224.6H251.8M241.0 2226.4H251.8M241.0 2228.2H251.8" fill="none" stroke-width="0.45"/>
<path d="M231.0 2208.4L269.0 2208.4" fill="none" stroke-width="0.35" stroke-dasharray="4 1.2 1 1.2"/>
<path d="M246.4 2200.0L246.4 2232.0" fill="none" stroke-width="0.35" stroke-dasharray="4 1.2 1 1.2"/>
<path d="M186.2 2200.0L186.2 2230.0" fill="none" stroke-width="0.5" stroke-dasharray="5 1.5 1 1.5"/>
<path d="M234.5 1976.5L335.9 1976.5" fill="none" stroke-width="0.45"/>
<path d="M240.1 1987.8L335.9 1987.8" fill="none" stroke-width="0.45"/>
<path d="M248.6 2040.9L335.9 2040.9" fill="none" stroke-width="0.45"/>
<path d="M248.6 2056.5L335.9 2056.5" fill="none" stroke-width="0.45"/>
<path d="M235.0 2154.4L335.9 2154.4" fill="none" stroke-width="0.45"/>
<path d="M269.1 2230.2L335.9 2230.2" fill="none" stroke-width="0.45"/>
<path d="M333.2 1976.5L335.6 1976.5" fill="none" stroke-width="0.9"/>
<path d="M333.2 1987.8L335.6 1987.8" fill="none" stroke-width="0.9"/>
<path d="M333.2 2040.9L335.6 2040.9" fill="none" stroke-width="0.9"/>
<path d="M333.2 2056.5L335.6 2056.5" fill="none" stroke-width="0.9"/>
<path d="M333.2 2154.4L335.6 2154.4" fill="none" stroke-width="0.9"/>
<path d="M333.2 2230.2L335.6 2230.2" fill="none" stroke-width="0.9"/>
<text x="332.0" y="1983.4" font-size="9" text-anchor="middle" fill="#484848" stroke="none" transform="rotate(-90 332.0 1983.4)">8</text>
<text x="332.0" y="2013.7" font-size="9" text-anchor="middle" fill="#484848" stroke="none" transform="rotate(-90 332.0 2013.7)">35</text>
<text x="332.0" y="2050.2" font-size="9" text-anchor="middle" fill="#484848" stroke="none" transform="rotate(-90 332.0 2050.2)">10</text>
<text x="332.0" y="2191.7" font-size="9" text-anchor="middle" fill="#484848" stroke="none" transform="rotate(-90 332.0 2191.7)">50</text>
<path d="M334.4 1976.5L334.4 2056.5" fill="none" stroke-width="0.45"/>
<path d="M334.4 2154.4L334.4 2230.2" fill="none" stroke-width="0.45"/>
<text x="150.4" y="1977.9" font-size="8.99504" text-anchor="start" fill="#484848" stroke="none">M30x2.0</text>
<path d="M149.9 1980.4L185.4 1980.4" fill="none" stroke-width="0.5"/>
<path d="M185.4 1980.4L194.7 1995.5" fill="none" stroke-width="0.5"/>
<text x="141.3" y="2189.8" font-size="8.63272" text-anchor="start" fill="#484848" stroke="none">φ70</text>
<path d="M140.8 2192.2L157.0 2192.2" fill="none" stroke-width="0.5"/>
<path d="M157.0 2192.2L172.6 2209.8" fill="none" stroke-width="0.5"/>
<text x="280.9" y="2183.4" font-size="8.20868" text-anchor="start" fill="#484848" stroke="none">Rc(PT)1/4</text>
<path d="M280.4 2185.7L318.8 2185.7" fill="none" stroke-width="0.5"/>
<path d="M280.4 2185.7L269.1 2208.4" fill="none" stroke-width="0.5"/>
<text x="264.0" y="2246.5" font-size="8.86618" text-anchor="start" fill="#484848" stroke="none">4-M8</text>
<path d="M263.5 2249.0L284.7 2249.0" fill="none" stroke-width="0.5"/>
<path d="M263.5 2249.0L246.4 2229.7" fill="none" stroke-width="0.5"/>
<path d="M186.2 2230.2L186.2 2252.5" fill="none" stroke-width="0.45"/>
<path d="M246.4 2230.2L246.4 2252.5" fill="none" stroke-width="0.45"/>
<path d="M186.2 2250.9L246.4 2250.9" fill="none" stroke-width="0.5"/>
<text x="215.5" y="2248.6" font-size="8.6" text-anchor="middle" fill="#484848" stroke="none">P.C.D φ40</text>
<rect x="422.9" y="2019.0" width="16.5" height="97.4" fill="#fff" stroke-width="0.6"/>
<path d="M422.9 2021.2H439.4M422.9 2023.4H439.4M422.9 2025.6H439.4M422.9 2027.8H439.4M422.9 2030.0H439.4M422.9 2032.2H439.4M422.9 2034.4H439.4M422.9 2036.6H439.4M422.9 2038.8H439.4M422.9 2041.0H439.4M422.9 2043.2H439.4M422.9 2045.4H439.4M422.9 2047.6H439.4M422.9 2049.8H439.4M422.9 2052.0H439.4M422.9 2054.2H439.4M422.9 2056.4H439.4M422.9 2058.6H439.4M422.9 2060.8H439.4M422.9 2063.0H439.4M422.9 2065.2H439.4M422.9 2067.4H439.4M422.9 2069.6H439.4M422.9 2071.8H439.4M422.9 2074.0H439.4M422.9 2076.2H439.4M422.9 2078.4H439.4M422.9 2080.6H439.4M422.9 2082.8H439.4M422.9 2085.0H439.4M422.9 2087.2H439.4M422.9 2089.4H439.4M422.9 2091.6H439.4M422.9 2093.8H439.4M422.9 2096.0H439.4M422.9 2098.2H439.4M422.9 2100.4H439.4M422.9 2102.6H439.4M422.9 2104.8H439.4M422.9 2107.0H439.4M422.9 2109.2H439.4M422.9 2111.4H439.4M422.9 2113.6H439.4M422.9 2115.8H439.4" fill="none" stroke-width="0.9"/>
<rect x="439.4" y="1938.5" width="7.7" height="177.9" fill="url(#h3)" stroke-width="0.5"/>
<rect x="439.4" y="1976.0" width="6.7" height="140.4" fill="#fff" stroke-width="0.5"/>
<rect x="447.6" y="1949.8" width="10.3" height="166.6" fill="url(#h2)" stroke-width="0.5"/>
<rect x="457.9" y="1950.2" width="5.6" height="48.8" rx="1" fill="url(#h1)" stroke-width="0.6"/>
<rect x="418.7" y="1950.3" width="20.7" height="49.7" fill="#fff" stroke-width="0.8"/>
<path d="M430.1 1950.3L430.1 2000.0" fill="none" stroke-width="0.4"/>
<rect x="423.8" y="1938.5" width="15.6" height="11.3" fill="#fff" stroke-width="0.8"/>
<rect x="439.4" y="1938.5" width="18.5" height="11.3" fill="url(#h1)" stroke-width="0.8"/>
<path d="M439.4 1961.7H410.1Q407.9 1961.7 407.9 1963.9V1975.2Q407.9 1977.4 410.1 1977.4H439.4Z" fill="#fff" stroke-width="0.8"/>
<path d="M423.0 1961.7L423.0 1977.4" fill="none" stroke-width="0.5"/>
<path d="M423.0 1962.1Q431.2 1963.9 439.4 1962.9M423.0 1977.0Q431.2 1975.2 439.4 1976.2" fill="none" stroke-width="0.45"/>
<path d="M463.5 1961.7H469.8Q472.0 1961.7 472.0 1963.9V1975.2Q472.0 1977.4 469.8 1977.4H463.5Z" fill="#fff" stroke-width="0.8"/>
<path d="M439.4 1977.4H410.1Q407.9 1977.4 407.9 1979.6V1990.8Q407.9 1993.0 410.1 1993.0H439.4Z" fill="#fff" stroke-width="0.8"/>
<path d="M423.0 1977.4L423.0 1993.0" fill="none" stroke-width="0.5"/>
<path d="M423.0 1977.8Q431.2 1979.6 439.4 1978.6M423.0 1992.6Q431.2 1990.8 439.4 1991.8" fill="none" stroke-width="0.45"/>
<path d="M463.5 1977.4H469.8Q472.0 1977.4 472.0 1979.6V1990.8Q472.0 1993.0 469.8 1993.0H463.5Z" fill="#fff" stroke-width="0.8"/>
<path d="M439.4 2003.7H410.1Q407.9 2003.7 407.9 2005.9V2016.3Q407.9 2018.5 410.1 2018.5H439.4Z" fill="#fff" stroke-width="0.8"/>
<path d="M423.0 2003.7L423.0 2018.5" fill="none" stroke-width="0.5"/>
<path d="M423.0 2004.1Q431.2 2005.9 439.4 2004.9M423.0 2018.1Q431.2 2016.3 439.4 2017.3" fill="none" stroke-width="0.45"/>
<path d="M457.9 2003.7H470.0Q472.0 2003.7 472.0 2005.7V2016.5Q472.0 2018.5 470.0 2018.5H457.9Z" fill="url(#h1)" stroke-width="0.8"/>
<path d="M439.4 1936.5L439.4 2118.4" fill="none" stroke-width="0.35" stroke-dasharray="6 1.5 1 1.5"/>
<rect x="420.0" y="2116.4" width="19.4" height="27.1" fill="#fff" stroke-width="0.8"/>
<path d="M447.1 2116.4L458.4 2116.4L458.4 2143.5L439.4 2143.5L439.4 2140.0L449.9 2140.0L451.4 2120.0L447.1 2120.0Z" fill="url(#h1)" stroke-width="0.8"/>
<rect x="386.5" y="2145.5" width="52.9" height="48.4" rx="1" fill="#fff" stroke-width="0.8"/>
<path d="M386.5 2149.0L439.4 2149.0" fill="none" stroke-width="0.45"/>
<path d="M409.4 2158.0L409.4 2190.0" fill="none" stroke-width="0.45" stroke-dasharray="5 1.5 1 1.5"/>
<path d="M439.4 2143.5L491.4 2143.5L493.0 2145.5L493.0 2193.9L475.4 2193.9L475.4 2175.0L453.4 2175.0L453.4 2160.0L439.4 2160.0Z" fill="url(#h1)" stroke-width="0.8"/>
<rect x="461.4" y="2172.0" width="12.0" height="40.0" fill="#fff" stroke-width="0.5"/>
<rect x="463.9" y="2176.0" width="7.0" height="20.0" fill="url(#h3)" stroke-width="0.4"/>
<path d="M376.8 2193.9L439.4 2193.9L439.4 2240.3L344.5 2240.3L344.5 2235.8L376.8 2212.0Z" fill="#fff" stroke-width="0.8"/>
<path d="M376.8 2212.0L439.4 2212.0" fill="none" stroke-width="0.45"/>
<path d="M344.5 2235.8L439.4 2235.8" fill="none" stroke-width="0.45"/>
<path d="M381.4 2198.0L439.4 2198.0" fill="none" stroke-width="0.4"/>
<path d="M439.4 2193.9L453.4 2193.9L453.4 2175.0L461.4 2175.0L461.4 2209.0L473.4 2209.0L473.4 2193.9L503.9 2193.9L503.9 2212.0L536.1 2235.8L536.1 2240.3L529.4 2240.3L497.4 2216.0L489.4 2213.0L439.4 2213.0Z" fill="url(#h2)" stroke-width="0.6"/>
<path d="M344.5 2240.3L344.5 2255.5" fill="none" stroke-width="0.45"/>
<path d="M536.1 2240.3L536.1 2255.5" fill="none" stroke-width="0.45"/>
<path d="M344.5 2253.9L536.1 2253.9" fill="none" stroke-width="0.5"/>
<text x="439.4" y="2251.5" font-size="9" text-anchor="middle" fill="#484848" stroke="none">φA</text>
<path d="M503.9 2193.9L581.5 2193.9" fill="none" stroke-width="0.45"/>
<path d="M536.1 2237.7L596.0 2237.7" fill="none" stroke-width="0.45"/>
<path d="M457.9 1938.5L596.0 1938.5" fill="none" stroke-width="0.45"/>
<path d="M579.4 2193.9L579.4 2237.7" fill="none" stroke-width="0.45"/>
<path d="M594.2 1938.5L594.2 2237.7" fill="none" stroke-width="0.45"/>
<path d="M578.2 2193.9L580.6 2193.9" fill="none" stroke-width="0.9"/>
<path d="M578.2 2237.7L580.6 2237.7" fill="none" stroke-width="0.9"/>
<path d="M593.0 1938.5L595.4 1938.5" fill="none" stroke-width="0.9"/>
<path d="M593.0 2237.7L595.4 2237.7" fill="none" stroke-width="0.9"/>
<text x="577.0" y="2216.0" font-size="9" text-anchor="middle" fill="#484848" stroke="none" transform="rotate(-90 577.0 2216.0)">C</text>
<text x="591.5" y="2089.0" font-size="9" text-anchor="middle" fill="#484848" stroke="none" transform="rotate(-90 591.5 2089.0)">B</text>
<rect x="703.4" y="2096.8" width="15.1" height="30.2" fill="#fff" stroke-width="0"/>
<path d="M703.4 2097.4L718.5 2099.2L718.5 2100.5L703.4 2101.1L703.4 2101.8L718.5 2103.5L718.5 2104.8L703.4 2105.4L703.4 2106.1L718.5 2107.8L718.5 2109.1L703.4 2109.7L703.4 2110.4L718.5 2112.1L718.5 2113.4L703.4 2114.1L703.4 2114.7L718.5 2116.4L718.5 2117.7L703.4 2118.4L703.4 2119.0L718.5 2120.7L718.5 2122.0L703.4 2122.7L703.4 2123.3L718.5 2125.1L718.5 2126.4L703.4 2127.0" fill="none" stroke-width="0.7"/>
<path d="M703.4 2096.8L703.4 2127.0" fill="none" stroke-width="0.5"/>
<rect x="718.5" y="2011.4" width="9.3" height="115.6" fill="url(#h1)" stroke-width="0.5"/>
<path d="M727.8 2019.0L735.5 2019.0L737.1 2020.5L737.1 2087.5L745.7 2087.5L745.7 2094.5L734.5 2094.5L731.5 2100.0L731.5 2123.0L738.5 2127.0L727.8 2127.0Z" fill="url(#h2)" stroke-width="0.6"/>
<rect x="700.6" y="2019.0" width="17.9" height="68.5" fill="#fff" stroke-width="0.8"/>
<path d="M710.5 2019.0L710.5 2087.5" fill="none" stroke-width="0.4"/>
<rect x="709.2" y="2011.4" width="9.3" height="7.6" fill="#fff" stroke-width="0.8"/>
<path d="M718.5 2049.9H694.0Q691.8 2049.9 691.8 2052.1V2060.3Q691.8 2062.5 694.0 2062.5H718.5Z" fill="#fff" stroke-width="0.8"/>
<path d="M704.6 2049.9L704.6 2062.5" fill="none" stroke-width="0.5"/>
<path d="M704.6 2050.3Q711.6 2052.1 718.5 2051.1M704.6 2062.1Q711.6 2060.3 718.5 2061.3" fill="none" stroke-width="0.45"/>
<path d="M737.1 2049.9H743.5Q745.7 2049.9 745.7 2052.1V2060.3Q745.7 2062.5 743.5 2062.5H737.1Z" fill="#fff" stroke-width="0.8"/>
<path d="M718.5 2087.5H694.0Q691.8 2087.5 691.8 2089.7V2094.6Q691.8 2096.8 694.0 2096.8H718.5Z" fill="#fff" stroke-width="0.8"/>
<path d="M704.6 2087.5L704.6 2096.8" fill="none" stroke-width="0.5"/>
<path d="M704.6 2087.9Q711.6 2089.7 718.5 2088.7M704.6 2096.4Q711.6 2094.6 718.5 2095.6" fill="none" stroke-width="0.45"/>
<path d="M718.5 2009.0L718.5 2182.0" fill="none" stroke-width="0.35" stroke-dasharray="6 1.5 1 1.5"/>
<rect x="697.6" y="2127.0" width="20.9" height="24.4" fill="#fff" stroke-width="0.8"/>
<path d="M718.5 2127.0L738.5 2127.0L734.5 2131.7L718.5 2131.7Z" fill="url(#h1)" stroke-width="0.5"/>
<rect x="661.1" y="2141.5" width="36.5" height="4.7" fill="url(#h3)" stroke-width="0.5"/>
<rect x="691.2" y="2135.5" width="5.5" height="6.0" rx="0.8" fill="#fff" stroke-width="0.55"/>
<rect x="683.9" y="2134.0" width="5.5" height="7.5" rx="0.8" fill="#fff" stroke-width="0.55"/>
<rect x="676.6" y="2135.5" width="5.5" height="6.0" rx="0.8" fill="#fff" stroke-width="0.55"/>
<rect x="669.3" y="2135.5" width="5.5" height="6.0" rx="0.8" fill="#fff" stroke-width="0.55"/>
<rect x="662.0" y="2135.5" width="5.5" height="6.0" rx="0.8" fill="#fff" stroke-width="0.55"/>
<rect x="681.6" y="2146.2" width="12.0" height="4.6" fill="url(#h2)" stroke-width="0.5"/>
<rect x="726.5" y="2141.5" width="48.9" height="4.7" fill="url(#h3)" stroke-width="0.5"/>
<rect x="727.5" y="2135.5" width="6.2" height="6.0" rx="0.8" fill="#fff" stroke-width="0.55"/>
<rect x="735.6" y="2134.0" width="6.2" height="7.5" rx="0.8" fill="#fff" stroke-width="0.55"/>
<rect x="743.8" y="2135.5" width="6.2" height="6.0" rx="0.8" fill="#fff" stroke-width="0.55"/>
<rect x="751.9" y="2135.5" width="6.2" height="6.0" rx="0.8" fill="#fff" stroke-width="0.55"/>
<rect x="760.1" y="2135.5" width="6.2" height="6.0" rx="0.8" fill="#fff" stroke-width="0.55"/>
<rect x="768.2" y="2135.5" width="6.2" height="6.0" rx="0.8" fill="#fff" stroke-width="0.55"/>
<rect x="730.5" y="2146.2" width="12.0" height="4.6" fill="url(#h2)" stroke-width="0.5"/>
<path d="M660.5 2138.8L776.5 2138.8" fill="none" stroke-width="0.35" stroke-dasharray="4 1.2 1 1.2"/>
<rect x="705.7" y="2151.4" width="12.8" height="22.1" fill="#fff" stroke-width="0.8"/>
<rect x="700.6" y="2173.5" width="17.9" height="5.8" rx="2.2" fill="#fff" stroke-width="0.8"/>
<path d="M726.5 2150.8L733.6 2150.8L733.6 2173.5L737.1 2173.5L737.1 2179.3L718.5 2179.3L718.5 2175.0L726.5 2175.0Z" fill="url(#h1)" stroke-width="0.6"/>
<path d="M727.8 2011.4L805.9 2011.4" fill="none" stroke-width="0.45"/>
<path d="M737.1 2019.7L805.9 2019.7" fill="none" stroke-width="0.45"/>
<path d="M745.7 2087.1L805.9 2087.1" fill="none" stroke-width="0.45"/>
<path d="M745.7 2096.4L805.9 2096.4" fill="none" stroke-width="0.45"/>
<path d="M738.5 2127.0L805.9 2127.0" fill="none" stroke-width="0.45"/>
<path d="M737.1 2180.9L805.9 2180.9" fill="none" stroke-width="0.45"/>
<path d="M803.2 2011.4L805.6 2011.4" fill="none" stroke-width="0.9"/>
<path d="M803.2 2019.7L805.6 2019.7" fill="none" stroke-width="0.9"/>
<path d="M803.2 2087.1L805.6 2087.1" fill="none" stroke-width="0.9"/>
<path d="M803.2 2096.4L805.6 2096.4" fill="none" stroke-width="0.9"/>
<path d="M803.2 2127.0L805.6 2127.0" fill="none" stroke-width="0.9"/>
<path d="M803.2 2180.9L805.6 2180.9" fill="none" stroke-width="0.9"/>
<text x="802.0" y="2015.9" font-size="8.2" text-anchor="middle" fill="#484848" stroke="none" transform="rotate(-90 802.0 2015.9)">2.7</text>
<text x="802.0" y="2052.9" font-size="8.2" text-anchor="middle" fill="#484848" stroke="none" transform="rotate(-90 802.0 2052.9)">22</text>
<text x="802.0" y="2092.8" font-size="8.2" text-anchor="middle" fill="#484848" stroke="none" transform="rotate(-90 802.0 2092.8)">3</text>
<text x="802.0" y="2152.2" font-size="8.2" text-anchor="middle" fill="#484848" stroke="none" transform="rotate(-90 802.0 2152.2)">17.3</text>
<path d="M804.4 2011.4L804.4 2096.4" fill="none" stroke-width="0.45"/>
<path d="M804.4 2127.0L804.4 2180.9" fill="none" stroke-width="0.45"/>
<rect x="779.0" y="2132.5" width="10.5" height="13.0" fill="none" stroke-width="0.5"/>
<text x="787.0" y="2139.0" font-size="6.4" text-anchor="middle" fill="#484848" stroke="none" transform="rotate(-90 787.0 2139.0)">φ5</text>
<text x="667.2" y="2031.9" font-size="7.7957" text-anchor="start" fill="#484848" stroke="none">M12x1.0</text>
<path d="M666.7 2034.1L697.6 2034.1" fill="none" stroke-width="0.5"/>
<path d="M697.6 2034.1L700.6 2042.3" fill="none" stroke-width="0.5"/>
<text x="683.0" y="2117.6" font-size="7.03199" text-anchor="start" fill="#484848" stroke="none">14H</text>
<path d="M682.5 2119.6L696.4 2119.6" fill="none" stroke-width="0.5"/>
<path d="M696.4 2119.6L700.6 2131.7" fill="none" stroke-width="0.5"/>
<rect x="859.9" y="2027.4" width="15.1" height="30.2" fill="#fff" stroke-width="0"/>
<path d="M859.9 2028.0L875.0 2029.8L875.0 2031.1L859.9 2031.7L859.9 2032.4L875.0 2034.1L875.0 2035.4L859.9 2036.0L859.9 2036.7L875.0 2038.4L875.0 2039.7L859.9 2040.3L859.9 2041.0L875.0 2042.7L875.0 2044.0L859.9 2044.7L859.9 2045.3L875.0 2047.0L875.0 2048.3L859.9 2049.0L859.9 2049.6L875.0 2051.3L875.0 2052.6L859.9 2053.3L859.9 2053.9L875.0 2055.7L875.0 2057.0L859.9 2057.6" fill="none" stroke-width="0.7"/>
<path d="M859.9 2027.4L859.9 2057.6" fill="none" stroke-width="0.5"/>
<rect x="875.0" y="1942.0" width="9.3" height="115.6" fill="url(#h1)" stroke-width="0.5"/>
<path d="M884.3 1949.6L892.0 1949.6L893.6 1951.1L893.6 2018.1L902.2 2018.1L902.2 2025.1L891.0 2025.1L888.0 2030.6L888.0 2053.6L895.0 2057.6L884.3 2057.6Z" fill="url(#h2)" stroke-width="0.6"/>
<rect x="857.1" y="1949.6" width="17.9" height="68.5" fill="#fff" stroke-width="0.8"/>
<path d="M867.0 1949.6L867.0 2018.1" fill="none" stroke-width="0.4"/>
<rect x="865.7" y="1942.0" width="9.3" height="7.6" fill="#fff" stroke-width="0.8"/>
<path d="M875.0 1980.5H850.5Q848.3 1980.5 848.3 1982.7V1990.9Q848.3 1993.1 850.5 1993.1H875.0Z" fill="#fff" stroke-width="0.8"/>
<path d="M861.1 1980.5L861.1 1993.1" fill="none" stroke-width="0.5"/>
<path d="M861.1 1980.9Q868.1 1982.7 875.0 1981.7M861.1 1992.7Q868.1 1990.9 875.0 1991.9" fill="none" stroke-width="0.45"/>
<path d="M893.6 1980.5H900.0Q902.2 1980.5 902.2 1982.7V1990.9Q902.2 1993.1 900.0 1993.1H893.6Z" fill="#fff" stroke-width="0.8"/>
<path d="M875.0 2018.1H850.5Q848.3 2018.1 848.3 2020.3V2025.2Q848.3 2027.4 850.5 2027.4H875.0Z" fill="#fff" stroke-width="0.8"/>
<path d="M861.1 2018.1L861.1 2027.4" fill="none" stroke-width="0.5"/>
<path d="M861.1 2018.5Q868.1 2020.3 875.0 2019.3M861.1 2027.0Q868.1 2025.2 875.0 2026.2" fill="none" stroke-width="0.45"/>
<path d="M875.0 1939.6L875.0 2112.6" fill="none" stroke-width="0.35" stroke-dasharray="6 1.5 1 1.5"/>
<rect x="854.1" y="2057.6" width="20.9" height="24.4" fill="#fff" stroke-width="0.8"/>
<path d="M875.0 2057.6L895.0 2057.6L891.0 2062.3L875.0 2062.3Z" fill="url(#h1)" stroke-width="0.5"/>
<rect x="817.6" y="2072.1" width="36.5" height="4.7" fill="url(#h3)" stroke-width="0.5"/>
<rect x="847.7" y="2066.1" width="5.5" height="6.0" rx="0.8" fill="#fff" stroke-width="0.55"/>
<rect x="840.4" y="2064.6" width="5.5" height="7.5" rx="0.8" fill="#fff" stroke-width="0.55"/>
<rect x="833.1" y="2066.1" width="5.5" height="6.0" rx="0.8" fill="#fff" stroke-width="0.55"/>
<rect x="825.8" y="2066.1" width="5.5" height="6.0" rx="0.8" fill="#fff" stroke-width="0.55"/>
<rect x="818.5" y="2066.1" width="5.5" height="6.0" rx="0.8" fill="#fff" stroke-width="0.55"/>
<rect x="838.1" y="2076.8" width="12.0" height="4.6" fill="url(#h2)" stroke-width="0.5"/>
<rect x="883.0" y="2072.1" width="48.9" height="4.7" fill="url(#h3)" stroke-width="0.5"/>
<rect x="884.0" y="2066.1" width="6.2" height="6.0" rx="0.8" fill="#fff" stroke-width="0.55"/>
<rect x="892.1" y="2064.6" width="6.2" height="7.5" rx="0.8" fill="#fff" stroke-width="0.55"/>
<rect x="900.3" y="2066.1" width="6.2" height="6.0" rx="0.8" fill="#fff" stroke-width="0.55"/>
<rect x="908.4" y="2066.1" width="6.2" height="6.0" rx="0.8" fill="#fff" stroke-width="0.55"/>
<rect x="916.6" y="2066.1" width="6.2" height="6.0" rx="0.8" fill="#fff" stroke-width="0.55"/>
<rect x="924.7" y="2066.1" width="6.2" height="6.0" rx="0.8" fill="#fff" stroke-width="0.55"/>
<rect x="887.0" y="2076.8" width="12.0" height="4.6" fill="url(#h2)" stroke-width="0.5"/>
<path d="M817.0 2069.4L933.0 2069.4" fill="none" stroke-width="0.35" stroke-dasharray="4 1.2 1 1.2"/>
<path d="M875.0 2082.0L855.4 2082.0L855.4 2092.0L843.2 2103.0L843.2 2108.0L850.5 2115.0L843.2 2125.0L843.2 2129.0L850.5 2137.0L843.2 2146.0L843.2 2182.2L875.0 2182.2Z" fill="#fff" stroke-width="0.8"/>
<path d="M855.4 2092.0L875.0 2092.0" fill="none" stroke-width="0.45"/>
<path d="M850.5 2115.0L875.0 2115.0" fill="none" stroke-width="0.45"/>
<path d="M850.5 2137.0L875.0 2137.0" fill="none" stroke-width="0.45"/>
<path d="M843.2 2163.6L875.0 2163.6" fill="none" stroke-width="0.45"/>
<path d="M883.0 2081.4L890.1 2081.4L890.1 2092.0L897.0 2097.0L909.3 2103.0L909.3 2108.0L902.0 2115.0L909.3 2125.0L909.3 2129.0L902.0 2137.0L909.3 2146.0L909.3 2163.6L904.0 2163.6L904.0 2148.0L896.0 2137.0L903.0 2127.0L896.0 2115.0L903.0 2105.0L889.0 2101.0L883.0 2101.0Z" fill="url(#h2)" stroke-width="0.6"/>
<path d="M843.2 2182.2L909.3 2182.2" fill="none" stroke-width="0.5"/>
<path d="M909.3 2163.6L909.3 2183.5" fill="none" stroke-width="0.45"/>
<text x="875.0" y="2179.8" font-size="8.2" text-anchor="middle" fill="#484848" stroke="none">φA</text>
<path d="M895.0 2084.1L962.5 2084.1" fill="none" stroke-width="0.45"/>
<path d="M909.3 2163.6L972.5 2163.6" fill="none" stroke-width="0.45"/>
<path d="M884.3 1941.9L972.5 1941.9" fill="none" stroke-width="0.45"/>
<path d="M960.9 2084.1L960.9 2163.6" fill="none" stroke-width="0.45"/>
<path d="M970.7 1941.9L970.7 2163.6" fill="none" stroke-width="0.45"/>
<path d="M959.7 2084.1L962.1 2084.1" fill="none" stroke-width="0.9"/>
<path d="M959.7 2163.6L962.1 2163.6" fill="none" stroke-width="0.9"/>
<path d="M969.5 1941.9L971.9 1941.9" fill="none" stroke-width="0.9"/>
<path d="M969.5 2163.6L971.9 2163.6" fill="none" stroke-width="0.9"/>
<text x="958.5" y="2125.0" font-size="8.2" text-anchor="middle" fill="#484848" stroke="none" transform="rotate(-90 958.5 2125.0)">C</text>
<text x="967.8" y="2054.0" font-size="8.2" text-anchor="middle" fill="#484848" stroke="none" transform="rotate(-90 967.8 2054.0)">B</text></svg>
<div class="ka" style="left:186.2px;top:1474.7px;font-size:12.6px;color:#222">홀더</div><div class="ka" style="left:276.1px;top:1474.7px;font-size:12.6px;color:#222">패드부착</div><div class="ka" style="left:195.2px;top:1492.0px;font-size:12.6px;color:#222">벨로우즈형 Ø5 적용</div><div class="ka" style="left:198.5px;top:1504.4px;font-size:12.6px;color:#222">박형 Ø8,Ø10 적용</div>
<div class="ka" style="left:449.6px;top:1474.0px;font-size:12.6px;color:#222">홀더</div><div class="ka" style="left:541.6px;top:1474.0px;font-size:12.6px;color:#222">패드부착</div><div class="ka" style="left:456.9px;top:1490.8px;font-size:12.6px;color:#222">일반형 Ø2~Ø8 적용</div><div class="ka" style="left:441.2px;top:1505.0px;font-size:12.6px;color:#222">벨로우즈형 Ø8~Ø15 적용</div><div class="ka" style="left:471.9px;top:1519.2px;font-size:12.6px;color:#222">박형 Ø15 적용</div><div class="ka" style="left:466.0px;top:1533.4px;font-size:12.6px;color:#222">편평형 Ø15 적용</div>
<div class="ka" style="left:727.8px;top:1474.9px;font-size:12.6px;color:#222">홀더</div><div class="ka" style="left:826.9px;top:1474.9px;font-size:12.6px;color:#222">패드부착</div><div class="ka" style="left:734.4px;top:1491.0px;font-size:12.6px;color:#222">일반형 Ø10,Ø15 적용</div>
<div class="ka" style="left:237.0px;top:1835.1px;font-size:12.6px;color:#222">홀더</div><div class="ka" style="left:355.1px;top:1835.1px;font-size:12.6px;color:#222">패드부착</div><div class="ka" style="left:249.6px;top:1850.8px;font-size:12.6px;color:#222">일반형 Ø20~Ø50 적용</div><div class="ka" style="left:237.7px;top:1865.6px;font-size:12.6px;color:#222">벨로우즈형 Ø20~Ø50 적용</div><div class="ka" style="left:249.6px;top:1880.4px;font-size:12.6px;color:#222">편평형 Ø20~Ø40 적용</div><div class="ka" style="left:280.6px;top:1895.2px;font-size:12.6px;color:#222">타원형 적용</div>
<div class="ka" style="left:629.4px;top:1839.4px;font-size:12.6px;color:#222">홀더</div><div class="ka" style="left:794.9px;top:1841.4px;font-size:12.6px;color:#222">패드부착</div><div class="ka" style="left:659.7px;top:1855.4px;font-size:12.6px;color:#222">일반형 Ø60~Ø100 적용</div><div class="ka" style="left:647.9px;top:1871.4px;font-size:12.6px;color:#222">벨로우즈형 Ø60~Ø100 적용</div>
<div class="ka" style="left:205.2px;top:2266.6px;font-size:12.6px;color:#222">홀더</div><div class="ka" style="left:417.8px;top:2266.6px;font-size:12.6px;color:#222">패드부착</div><div class="ka" style="left:250.9px;top:2282.1px;font-size:12.6px;color:#222">일반형 Ø125~Ø220 적용</div><div class="ka" style="left:239.1px;top:2297.1px;font-size:12.6px;color:#222">벨로우즈형 Ø125~Ø220 적용</div>
<div class="ka" style="left:705.6px;top:2191.8px;font-size:12.6px;color:#222">홀더</div><div class="ka" style="left:852.5px;top:2191.8px;font-size:12.6px;color:#222">패드부착</div><div class="ka" style="left:717.6px;top:2209.9px;font-size:12.6px;color:#222">3단 벨로우즈형 Ø20~Ø40 적용</div>
</section>
<section><style>
#dt{position:absolute;left:73px;top:2486.2px;width:537.5px;border-collapse:collapse;table-layout:fixed;font-size:13px;color:#3d3d3d;text-align:center;border-top:1.4px solid #555;border-bottom:1.2px solid #666}
#dt td,#dt th{border:1px solid #a2a2a2;font-weight:normal;padding:0;vertical-align:middle;letter-spacing:-.2px}
#dt th{background:#e9e9e9}
#dt th.g{background:#e9e9e9}
#dt tr>*:first-child{border-left:none}
#dt tr>*:last-child{border-right:none}
#dt tbody tr{height:22.76px}
#dt tbody tr.z td{background:#f5f5f5}
</style>
<div class="a" style="left:72.8px;top:2424.3px;width:880.2px;height:27.3px;background:#c8c8c8"></div>
<h2 class="ka" style="left:82.5px;top:2427.5px;font-size:21.4px;color:#222">외형치수도</h2>
<div class="ka" style="left:560.3px;top:2469.0px;font-size:12.5px;color:#222">단위:mm</div>
<table id="dt"><colgroup><col style="width:70.5px"><col style="width:68.5px"><col style="width:48.9px"><col style="width:48.9px"><col style="width:48.9px"><col style="width:48.9px"><col style="width:48.9px"><col style="width:48.9px"><col style="width:48.9px"><col style="width:56.2px"></colgroup><thead><tr style="height:16.6px"><th rowspan="2"><span style="font-size:12.7px;color:#222">패드모양</span></th><th rowspan="2">A</th><th colspan="7"><span style="font-size:12.2px;color:#222">B(행정거리)</span></th><th rowspan="2">C</th></tr><tr style="height:16.6px"><th>6st</th><th>10st</th><th>15st</th><th>20st</th><th>30st</th><th>50st</th><th>70st</th></tr></thead><tbody><tr><th class="g" rowspan="17"><span style="font-size:12.6px;color:#222">일반형</span></th><td>2</td><td>-</td><td>68</td><td>-</td><td>83</td><td>-</td><td>-</td><td>-</td><td>12</td></tr><tr class="z"><td>4</td><td>-</td><td>68</td><td>-</td><td>83</td><td>-</td><td>-</td><td>-</td><td>12</td></tr><tr><td>6</td><td>-</td><td>68</td><td>-</td><td>83</td><td>-</td><td>-</td><td>-</td><td>12</td></tr><tr class="z"><td>8</td><td>-</td><td>68</td><td>-</td><td>83</td><td>-</td><td>-</td><td>-</td><td>12</td></tr><tr><td>10</td><td>-</td><td>62</td><td>-</td><td>77</td><td>-</td><td>-</td><td>-</td><td>8</td></tr><tr class="z"><td>15</td><td>-</td><td>63</td><td>-</td><td>78</td><td>-</td><td>-</td><td>-</td><td>9</td></tr><tr><td>20</td><td>-</td><td>-</td><td>94</td><td>-</td><td>113</td><td>138</td><td>-</td><td>10</td></tr><tr class="z"><td>25</td><td>-</td><td>-</td><td>95</td><td>-</td><td>114</td><td>139</td><td>-</td><td>11</td></tr><tr><td>30</td><td>-</td><td>-</td><td>96</td><td>-</td><td>115</td><td>140</td><td>-</td><td>12</td></tr><tr class="z"><td>40</td><td>-</td><td>-</td><td>98</td><td>-</td><td>117</td><td>142</td><td>-</td><td>14</td></tr><tr><td>50</td><td>-</td><td>-</td><td>99</td><td>-</td><td>118</td><td>143</td><td>-</td><td>15</td></tr><tr class="z"><td>60</td><td>-</td><td>-</td><td>119</td><td>-</td><td>134</td><td>154</td><td>179</td><td>18</td></tr><tr><td>80</td><td>-</td><td>-</td><td>121</td><td>-</td><td>136</td><td>156</td><td>181</td><td>20</td></tr><tr class="z"><td>100</td><td>-</td><td>-</td><td>122</td><td>-</td><td>137</td><td>157</td><td>182</td><td>21</td></tr><tr><td>125</td><td>-</td><td>-</td><td>-</td><td>-</td><td>197</td><td>227</td><td>-</td><td>29</td></tr><tr class="z"><td>160</td><td>-</td><td>-</td><td>-</td><td>-</td><td>199</td><td>229</td><td>-</td><td>31</td></tr><tr><td>220</td><td>-</td><td>-</td><td>-</td><td>-</td><td>203</td><td>233</td><td>-</td><td>35</td></tr><tr class="z"><th class="g" rowspan="3"><span style="font-size:12.6px;color:#222">박형</span></th><td>8</td><td>-</td><td>65</td><td>-</td><td>80</td><td>-</td><td>-</td><td>-</td><td>7</td></tr><tr><td>10</td><td>-</td><td>66</td><td>-</td><td>81</td><td>-</td><td>-</td><td>-</td><td>8</td></tr><tr class="z"><td>15</td><td>-</td><td>66.5</td><td>-</td><td>81.5</td><td>-</td><td>-</td><td>-</td><td>10.5</td></tr><tr><th class="g" rowspan="15"><span style="font-size:12.6px;color:#222">벨로우즈형</span></th><td>5</td><td>-</td><td>67</td><td>-</td><td>82</td><td>-</td><td>-</td><td>-</td><td>9</td></tr><tr class="z"><td>8</td><td>-</td><td>69</td><td>-</td><td>84</td><td>-</td><td>-</td><td>-</td><td>13</td></tr><tr><td>10</td><td>-</td><td>71</td><td>-</td><td>86</td><td>-</td><td>-</td><td>-</td><td>15</td></tr><tr class="z"><td>15</td><td>-</td><td>73</td><td>-</td><td>88</td><td>-</td><td>-</td><td>-</td><td>17</td></tr><tr><td>20</td><td>-</td><td>-</td><td>102</td><td>-</td><td>121</td><td>146</td><td>-</td><td>18</td></tr><tr class="z"><td>25</td><td>-</td><td>-</td><td>104</td><td>-</td><td>123</td><td>148</td><td>-</td><td>20</td></tr><tr><td>30</td><td>-</td><td>-</td><td>106</td><td>-</td><td>125</td><td>150</td><td>-</td><td>22</td></tr><tr class="z"><td>40</td><td>-</td><td>-</td><td>109</td><td>-</td><td>128</td><td>153</td><td>-</td><td>25</td></tr><tr><td>50</td><td>-</td><td>-</td><td>112</td><td>-</td><td>131</td><td>156</td><td>-</td><td>28</td></tr><tr class="z"><td>60</td><td>-</td><td>-</td><td>129</td><td>-</td><td>144</td><td>164</td><td>189</td><td>28</td></tr><tr><td>80</td><td>-</td><td>-</td><td>134</td><td>-</td><td>149</td><td>169</td><td>194</td><td>33</td></tr><tr class="z"><td>100</td><td>-</td><td>-</td><td>138</td><td>-</td><td>153</td><td>173</td><td>198</td><td>37</td></tr><tr><td>125</td><td>-</td><td>-</td><td>-</td><td>-</td><td>238</td><td>268</td><td>-</td><td>70</td></tr><tr class="z"><td>160</td><td>-</td><td>-</td><td>-</td><td>-</td><td>243</td><td>273</td><td>-</td><td>75</td></tr><tr><td>220</td><td>-</td><td>-</td><td>-</td><td>-</td><td>248</td><td>278</td><td>-</td><td>80</td></tr><tr class="z"><th class="g" rowspan="3"><div style="line-height:11.5px;font-size:12.4px;color:#222">3단<br>벨로우즈형</div></th><td>203</td><td>72</td><td>-</td><td>-</td><td>-</td><td>-</td><td>-</td><td>-</td><td>26</td></tr><tr><td>303</td><td>80</td><td>-</td><td>-</td><td>-</td><td>-</td><td>-</td><td>-</td><td>34</td></tr><tr class="z"><td>403</td><td>92</td><td>-</td><td>-</td><td>-</td><td>-</td><td>-</td><td>-</td><td>46</td></tr><tr><th class="g" rowspan="5"><span style="font-size:12.6px;color:#222">편평형</span></th><td>15</td><td>-</td><td>66.5</td><td>-</td><td>81.5</td><td>-</td><td>-</td><td>-</td><td>10.5</td></tr><tr class="z"><td>20</td><td>-</td><td>-</td><td>95.5</td><td>-</td><td>114.5</td><td>139.5</td><td>-</td><td>11.5</td></tr><tr><td>25</td><td>-</td><td>-</td><td>95.5</td><td>-</td><td>114.5</td><td>139.5</td><td>-</td><td>11.5</td></tr><tr class="z"><td>30</td><td>-</td><td>-</td><td>97</td><td>-</td><td>116</td><td>141</td><td>-</td><td>13</td></tr><tr><td>40</td><td>-</td><td>-</td><td>97</td><td>-</td><td>116</td><td>141</td><td>-</td><td>13</td></tr><tr class="z"><th class="g" rowspan="2"><span style="font-size:12.6px;color:#222">타원형</span></th><td>20*50</td><td>-</td><td>-</td><td>97</td><td>-</td><td>116</td><td>141</td><td>-</td><td>13</td></tr><tr><td>30*60</td><td>-</td><td>-</td><td>97</td><td>-</td><td>116</td><td>141</td><td>-</td><td>13</td></tr></tbody></table>
<div class="ka" style="left:73.5px;top:3546.4px;font-size:12.45px;color:#222">※ 3단 벨로우즈형의 스프링 행정거리는 6㎜입니다.</div>
<div class="ka" style="left:73.5px;top:3564.4px;font-size:12.45px;color:#222">※ 3단 벨로우즈형에는 바브피팅 2개를 기본으로 장착하며 주문시 한쪽을 플러그로 막을 수 있습니다.</div>
</section>
</body></html>
